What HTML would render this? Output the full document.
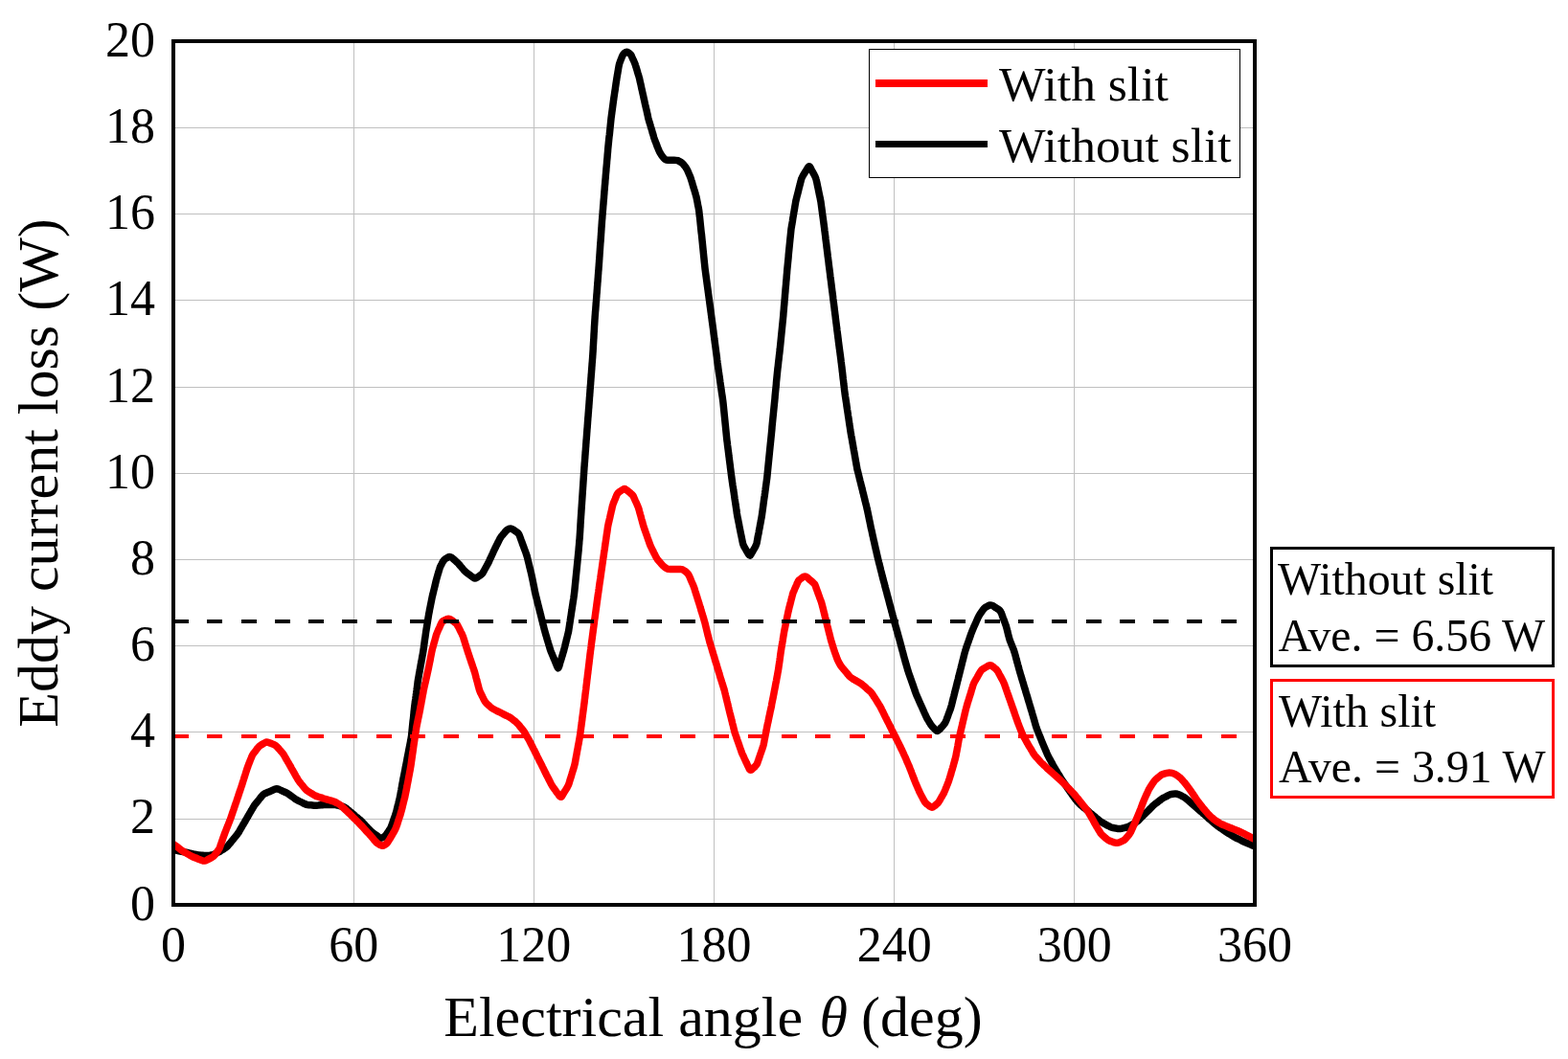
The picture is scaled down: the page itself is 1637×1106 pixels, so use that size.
<!DOCTYPE html>
<html><head><meta charset="utf-8"><title>Eddy current loss</title>
<style>
html,body{margin:0;padding:0;background:#fff;}
body{width:1637px;height:1106px;overflow:hidden;}
svg{display:block;}
text{font-family:"Liberation Serif","Times New Roman",serif;fill:#000;}
</style></head><body>
<svg width="1637" height="1106" viewBox="0 0 1637 1106">
<rect x="0" y="0" width="1637" height="1106" fill="#fff"/>
<path d="M369.5,45V943 M557.5,45V943 M745.5,45V943 M933.5,45V943 M1121.5,45V943 M183,133.5H1308 M183,223.5H1308 M183,313.5H1308 M183,404.5H1308 M183,494.5H1308 M183,584.5H1308 M183,674.5H1308 M183,764.5H1308 M183,855.5H1308" stroke="#c0c0c0" stroke-width="1" fill="none" shape-rendering="crispEdges"/>
<path d="M181.0,887.5 C181.5,887.6 183.0,887.9 183.9,888.1 C184.9,888.3 185.9,888.5 186.9,888.7 C187.9,888.9 188.8,889.1 189.8,889.3 C190.8,889.5 191.8,889.7 192.8,889.9 C193.7,890.1 194.7,890.3 195.7,890.5 C196.7,890.7 197.6,891.0 198.6,891.2 C199.6,891.4 200.6,891.6 201.5,891.9 C202.5,892.1 203.5,892.3 204.5,892.5 C205.4,892.7 206.4,892.8 207.4,892.9 C208.4,893.0 209.4,893.1 210.4,893.2 C211.4,893.3 212.4,893.5 213.4,893.5 C214.4,893.5 215.4,893.5 216.4,893.5 C217.4,893.4 218.4,893.4 219.4,893.3 C220.4,893.1 221.3,892.9 222.3,892.6 C223.2,892.3 224.1,891.8 225.0,891.4 C225.9,890.9 226.8,890.5 227.7,890.1 C228.6,889.6 229.5,889.2 230.3,888.7 C231.2,888.2 232.0,887.6 232.9,887.1 C233.7,886.6 234.6,886.1 235.4,885.5 C236.2,884.9 237.0,884.3 237.7,883.6 C238.4,882.9 239.0,882.1 239.6,881.3 C240.3,880.5 240.9,879.8 241.5,879.0 C242.2,878.2 242.8,877.4 243.4,876.7 C244.1,875.9 244.7,875.1 245.3,874.4 C246.0,873.6 246.6,872.8 247.2,872.0 C247.8,871.2 248.4,870.4 249.0,869.6 C249.5,868.7 250.0,867.9 250.5,867.0 C251.0,866.1 251.5,865.3 252.0,864.4 C252.5,863.5 253.0,862.7 253.5,861.8 C254.0,860.9 254.5,860.1 255.0,859.2 C255.5,858.4 256.0,857.5 256.5,856.6 C257.0,855.8 257.5,854.9 258.0,854.0 C258.5,853.2 259.0,852.3 259.5,851.4 C260.0,850.6 260.5,849.7 261.0,848.8 C261.5,848.0 262.0,847.1 262.5,846.3 C263.0,845.4 263.5,844.5 264.0,843.7 C264.6,842.8 265.1,841.9 265.6,841.1 C266.2,840.3 266.9,839.5 267.5,838.8 C268.1,838.0 268.7,837.2 269.4,836.4 C270.0,835.6 270.6,834.8 271.2,834.1 C271.8,833.3 272.4,832.5 273.1,831.7 C273.8,831.0 274.4,830.2 275.2,829.6 C276.0,829.1 276.9,828.7 277.8,828.3 C278.7,827.9 279.6,827.5 280.6,827.1 C281.5,826.7 282.4,826.3 283.3,825.9 C284.2,825.4 285.1,825.0 286.0,824.6 C286.9,824.3 287.9,823.7 288.8,823.7 C289.7,823.7 290.6,824.1 291.5,824.5 C292.4,824.8 293.3,825.3 294.2,825.7 C295.1,826.2 296.0,826.6 296.9,827.0 C297.8,827.4 298.7,827.8 299.6,828.3 C300.5,828.8 301.3,829.4 302.1,830.0 C302.9,830.5 303.8,831.1 304.6,831.7 C305.4,832.3 306.2,832.9 307.0,833.4 C307.8,834.0 308.6,834.6 309.5,835.1 C310.3,835.6 311.2,836.1 312.1,836.6 C313.0,837.0 313.9,837.5 314.8,837.9 C315.7,838.3 316.6,838.8 317.5,839.2 C318.4,839.6 319.3,840.1 320.2,840.3 C321.2,840.6 322.2,840.6 323.2,840.7 C324.2,840.8 325.2,840.9 326.2,841.0 C327.2,841.1 328.2,841.2 329.2,841.2 C330.2,841.2 331.2,841.1 332.2,841.1 C333.2,841.0 334.2,840.9 335.1,840.8 C336.1,840.7 337.1,840.6 338.1,840.5 C339.1,840.5 340.1,840.4 341.1,840.4 C342.1,840.4 343.1,840.4 344.1,840.4 C345.1,840.4 346.1,840.4 347.1,840.4 C348.1,840.4 349.1,840.5 350.1,840.6 C351.1,840.7 352.1,841.0 353.0,841.2 C354.0,841.4 355.0,841.7 355.9,841.9 C356.9,842.2 357.9,842.3 358.8,842.7 C359.7,843.1 360.5,843.6 361.3,844.2 C362.2,844.8 362.9,845.5 363.7,846.1 C364.5,846.7 365.2,847.4 366.0,848.0 C366.8,848.6 367.5,849.3 368.3,849.9 C369.1,850.6 369.8,851.2 370.6,851.9 C371.4,852.5 372.1,853.1 372.9,853.8 C373.7,854.4 374.4,855.1 375.2,855.7 C375.9,856.4 376.7,857.0 377.4,857.7 C378.1,858.4 378.8,859.2 379.5,859.9 C380.2,860.6 380.8,861.4 381.5,862.1 C382.2,862.8 382.9,863.5 383.6,864.3 C384.3,865.0 385.0,865.7 385.7,866.4 C386.4,867.2 387.0,867.9 387.8,868.5 C388.5,869.2 389.4,869.8 390.2,870.4 C391.0,871.0 391.8,871.5 392.6,872.1 C393.4,872.7 394.2,873.4 395.0,873.9 C395.8,874.4 396.6,875.1 397.5,875.2 C398.4,875.3 399.4,874.9 400.2,874.4 C401.0,874.0 401.8,873.3 402.4,872.6 C403.1,871.9 403.6,871.0 404.2,870.2 C404.8,869.4 405.4,868.6 405.9,867.7 C406.5,866.9 407.1,866.1 407.6,865.3 C408.0,864.4 408.4,863.4 408.7,862.5 C409.1,861.6 409.4,860.6 409.7,859.7 C410.0,858.7 410.4,857.8 410.7,856.8 C411.0,855.9 411.4,854.9 411.7,854.0 C412.0,853.1 412.4,852.1 412.7,851.2 C413.0,850.2 413.3,849.3 413.6,848.3 C413.9,847.4 414.1,846.4 414.3,845.4 C414.6,844.4 414.8,843.5 415.0,842.5 C415.3,841.5 415.5,840.6 415.8,839.6 C416.0,838.6 416.2,837.6 416.5,836.7 C416.7,835.7 417.0,834.7 417.2,833.8 C417.4,832.8 417.6,831.8 417.8,830.8 C418.0,829.8 418.2,828.9 418.3,827.9 C418.5,826.9 418.7,825.9 418.9,824.9 C419.0,823.9 419.2,822.9 419.4,822.0 C419.6,821.0 419.7,820.0 419.9,819.0 C420.1,818.0 420.3,817.0 420.5,816.1 C420.6,815.1 420.8,814.1 421.0,813.1 C421.2,812.1 421.4,811.2 421.6,810.2 C421.8,809.2 422.0,808.2 422.2,807.2 C422.4,806.2 422.6,805.3 422.8,804.3 C423.0,803.3 423.1,802.3 423.3,801.3 C423.5,800.4 423.7,799.4 423.9,798.4 C424.1,797.4 424.3,796.4 424.5,795.4 C424.7,794.5 424.9,793.5 425.0,792.5 C425.2,791.5 425.4,790.5 425.6,789.6 C425.8,788.6 426.0,787.6 426.2,786.6 C426.4,785.6 426.6,784.6 426.7,783.7 C426.9,782.7 427.1,781.7 427.3,780.7 C427.5,779.7 427.7,778.8 427.9,777.8 C428.1,776.8 428.3,775.8 428.5,774.8 C428.6,773.8 428.8,772.9 429.0,771.9 C429.2,770.9 429.4,769.9 429.5,768.9 C429.7,767.9 429.7,766.9 429.8,765.9 C430.0,765.0 430.0,764.0 430.1,763.0 C430.2,762.0 430.3,761.0 430.4,760.0 C430.5,759.0 430.6,758.0 430.7,757.0 C430.8,756.0 430.9,755.0 431.0,754.0 C431.1,753.0 431.2,752.0 431.4,751.0 C431.5,750.0 431.6,749.0 431.7,748.0 C431.8,747.0 431.9,746.0 432.0,745.1 C432.1,744.1 432.1,743.1 432.3,742.1 C432.4,741.1 432.5,740.1 432.6,739.1 C432.7,738.1 432.8,737.1 433.0,736.1 C433.1,735.1 433.2,734.1 433.4,733.1 C433.5,732.1 433.6,731.2 433.8,730.2 C433.9,729.2 434.0,728.2 434.2,727.2 C434.3,726.2 434.4,725.2 434.6,724.2 C434.7,723.2 434.8,722.2 435.0,721.2 C435.1,720.3 435.2,719.3 435.4,718.3 C435.5,717.3 435.6,716.3 435.8,715.3 C435.9,714.3 436.0,713.3 436.1,712.3 C436.3,711.3 436.4,710.3 436.6,709.4 C436.7,708.4 436.9,707.4 437.1,706.4 C437.3,705.4 437.5,704.4 437.6,703.4 C437.8,702.5 438.0,701.5 438.2,700.5 C438.3,699.5 438.5,698.5 438.7,697.5 C438.9,696.6 439.0,695.6 439.2,694.6 C439.4,693.6 439.6,692.6 439.8,691.6 C439.9,690.7 440.1,689.7 440.3,688.7 C440.5,687.7 440.6,686.7 440.8,685.7 C441.0,684.7 441.2,683.8 441.4,682.8 C441.5,681.8 441.7,680.8 441.9,679.8 C442.0,678.8 442.2,677.8 442.3,676.9 C442.5,675.9 442.6,674.9 442.7,673.9 C442.9,672.9 443.0,671.9 443.1,670.9 C443.3,669.9 443.4,668.9 443.5,667.9 C443.7,667.0 443.8,666.0 444.0,665.0 C444.1,664.0 444.2,663.0 444.4,662.0 C444.5,661.0 444.7,660.0 444.8,659.0 C445.0,658.0 445.1,657.1 445.3,656.1 C445.5,655.1 445.6,654.1 445.8,653.1 C445.9,652.1 446.1,651.1 446.3,650.2 C446.4,649.2 446.6,648.2 446.7,647.2 C446.9,646.2 447.1,645.2 447.2,644.2 C447.4,643.2 447.5,642.3 447.7,641.3 C447.9,640.3 448.1,639.3 448.3,638.3 C448.4,637.3 448.6,636.4 448.8,635.4 C449.0,634.4 449.2,633.4 449.4,632.4 C449.6,631.5 449.8,630.5 450.0,629.5 C450.2,628.5 450.4,627.5 450.6,626.5 C450.8,625.6 451.0,624.6 451.2,623.6 C451.4,622.6 451.6,621.7 451.9,620.7 C452.1,619.7 452.3,618.7 452.6,617.8 C452.8,616.8 453.0,615.8 453.3,614.9 C453.5,613.9 453.8,612.9 454.0,611.9 C454.2,611.0 454.5,610.0 454.7,609.0 C454.9,608.1 455.2,607.1 455.4,606.1 C455.7,605.1 455.9,604.2 456.2,603.2 C456.5,602.3 456.7,601.3 457.0,600.3 C457.3,599.4 457.6,598.4 457.9,597.5 C458.2,596.5 458.4,595.5 458.7,594.6 C459.0,593.6 459.3,592.7 459.7,591.8 C460.1,590.8 460.6,590.0 461.1,589.1 C461.5,588.2 461.9,587.3 462.5,586.4 C463.0,585.6 463.5,584.8 464.3,584.2 C465.0,583.5 466.0,583.1 466.8,582.6 C467.7,582.2 468.6,581.4 469.4,581.4 C470.2,581.4 471.0,581.9 471.7,582.4 C472.5,582.9 473.2,583.7 474.0,584.4 C474.7,585.0 475.5,585.7 476.2,586.4 C476.9,587.1 477.7,587.7 478.3,588.4 C479.0,589.2 479.7,589.9 480.3,590.7 C481.0,591.5 481.6,592.2 482.3,593.0 C482.9,593.7 483.5,594.5 484.2,595.3 C484.9,596.0 485.6,596.7 486.3,597.4 C487.0,598.1 487.9,598.6 488.7,599.2 C489.5,599.8 490.3,600.4 491.1,601.0 C491.9,601.6 492.7,602.3 493.5,602.8 C494.3,603.3 495.1,604.1 495.9,604.1 C496.7,604.1 497.5,603.4 498.4,602.9 C499.2,602.4 500.0,601.8 500.8,601.2 C501.7,600.6 502.5,600.1 503.2,599.4 C503.9,598.7 504.3,597.8 504.8,596.9 C505.3,596.1 505.8,595.2 506.3,594.3 C506.8,593.4 507.2,592.6 507.7,591.7 C508.2,590.8 508.7,589.9 509.2,589.1 C509.6,588.2 510.1,587.3 510.5,586.4 C510.9,585.5 511.3,584.6 511.7,583.6 C512.2,582.7 512.6,581.8 513.0,580.9 C513.4,580.0 513.8,579.1 514.3,578.2 C514.7,577.3 515.1,576.4 515.5,575.5 C515.9,574.6 516.4,573.7 516.8,572.8 C517.2,571.9 517.7,571.0 518.1,570.1 C518.6,569.2 519.0,568.3 519.5,567.4 C519.9,566.5 520.4,565.6 520.8,564.7 C521.3,563.8 521.7,562.9 522.2,562.1 C522.7,561.2 523.3,560.4 523.9,559.6 C524.6,558.8 525.2,558.1 525.9,557.3 C526.5,556.6 527.1,555.7 527.8,555.0 C528.5,554.3 529.2,553.7 530.0,553.1 C530.9,552.6 531.8,551.9 532.6,551.9 C533.5,551.8 534.3,552.3 535.1,552.7 C536.0,553.1 536.8,553.8 537.6,554.4 C538.4,554.9 539.3,555.4 540.1,556.1 C540.8,556.7 541.4,557.4 541.9,558.2 C542.4,559.1 542.6,560.1 543.0,561.0 C543.3,562.0 543.7,562.9 544.0,563.8 C544.4,564.8 544.7,565.7 545.1,566.7 C545.4,567.6 545.7,568.5 546.1,569.5 C546.4,570.4 546.8,571.3 547.1,572.3 C547.5,573.2 547.8,574.2 548.2,575.1 C548.5,576.0 548.9,577.0 549.2,577.9 C549.5,578.9 549.8,579.8 550.1,580.8 C550.4,581.7 550.6,582.7 550.9,583.7 C551.1,584.6 551.3,585.6 551.6,586.6 C551.8,587.6 552.0,588.5 552.3,589.5 C552.5,590.5 552.8,591.4 553.0,592.4 C553.2,593.4 553.5,594.4 553.7,595.3 C554.0,596.3 554.2,597.3 554.4,598.2 C554.7,599.2 554.9,600.2 555.1,601.2 C555.3,602.1 555.5,603.1 555.7,604.1 C555.9,605.1 556.1,606.1 556.3,607.0 C556.5,608.0 556.7,609.0 556.9,610.0 C557.1,611.0 557.3,612.0 557.5,612.9 C557.7,613.9 557.9,614.9 558.1,615.9 C558.2,616.9 558.4,617.8 558.7,618.8 C558.9,619.8 559.1,620.8 559.3,621.7 C559.6,622.7 559.8,623.7 560.1,624.6 C560.3,625.6 560.6,626.6 560.8,627.6 C561.0,628.5 561.3,629.5 561.5,630.5 C561.8,631.4 562.0,632.4 562.3,633.4 C562.5,634.3 562.7,635.3 563.0,636.3 C563.2,637.2 563.5,638.2 563.7,639.2 C564.0,640.2 564.2,641.1 564.5,642.1 C564.7,643.1 564.9,644.0 565.2,645.0 C565.4,646.0 565.7,646.9 565.9,647.9 C566.2,648.9 566.4,649.9 566.6,650.8 C566.9,651.8 567.1,652.8 567.4,653.7 C567.6,654.7 567.9,655.7 568.1,656.6 C568.4,657.6 568.6,658.6 568.9,659.5 C569.1,660.5 569.4,661.5 569.7,662.4 C570.0,663.4 570.3,664.3 570.6,665.3 C570.8,666.3 571.1,667.2 571.4,668.2 C571.7,669.1 572.0,670.1 572.3,671.1 C572.6,672.0 572.8,673.0 573.1,673.9 C573.4,674.9 573.7,675.9 574.0,676.8 C574.3,677.8 574.6,678.7 574.9,679.7 C575.3,680.6 575.7,681.5 576.0,682.4 C576.4,683.4 576.8,684.3 577.2,685.2 C577.6,686.1 578.0,687.0 578.3,688.0 C578.7,688.9 579.1,689.8 579.5,690.7 C579.9,691.7 580.3,692.6 580.6,693.5 C581.0,694.4 581.4,695.6 581.8,696.3 C582.2,697.0 582.6,697.9 582.9,697.7 C583.2,697.6 583.5,696.3 583.8,695.5 C584.1,694.6 584.4,693.5 584.6,692.6 C584.9,691.6 585.2,690.7 585.5,689.7 C585.8,688.8 586.1,687.8 586.4,686.8 C586.7,685.9 587.0,684.9 587.3,684.0 C587.5,683.0 587.8,682.1 588.1,681.1 C588.4,680.1 588.7,679.2 588.9,678.2 C589.2,677.3 589.4,676.3 589.7,675.3 C589.9,674.3 590.1,673.4 590.4,672.4 C590.6,671.4 590.9,670.5 591.1,669.5 C591.3,668.5 591.6,667.5 591.8,666.6 C592.1,665.6 592.3,664.6 592.5,663.7 C592.8,662.7 593.0,661.7 593.3,660.7 C593.5,659.8 593.7,658.8 593.8,657.8 C594.0,656.8 594.1,655.8 594.3,654.8 C594.4,653.8 594.6,652.9 594.7,651.9 C594.9,650.9 595.0,649.9 595.2,648.9 C595.3,647.9 595.5,646.9 595.6,645.9 C595.8,644.9 595.9,644.0 596.1,643.0 C596.2,642.0 596.4,641.0 596.5,640.0 C596.7,639.0 596.8,638.0 597.0,637.0 C597.1,636.0 597.3,635.1 597.4,634.1 C597.6,633.1 597.7,632.1 597.9,631.1 C598.0,630.1 598.2,629.1 598.3,628.1 C598.5,627.2 598.6,626.2 598.8,625.2 C598.9,624.2 599.1,623.2 599.2,622.2 C599.4,621.2 599.5,620.2 599.6,619.2 C599.7,618.2 599.8,617.2 599.9,616.3 C600.0,615.3 600.1,614.3 600.2,613.3 C600.3,612.3 600.4,611.3 600.5,610.3 C600.6,609.3 600.7,608.3 600.8,607.3 C600.9,606.3 601.0,605.3 601.1,604.3 C601.2,603.3 601.3,602.3 601.4,601.3 C601.5,600.3 601.6,599.3 601.7,598.3 C601.8,597.3 601.9,596.4 602.0,595.4 C602.1,594.4 602.2,593.4 602.3,592.4 C602.4,591.4 602.5,590.4 602.6,589.4 C602.7,588.4 602.8,587.4 602.9,586.4 C603.0,585.4 603.1,584.4 603.2,583.4 C603.3,582.4 603.4,581.4 603.5,580.4 C603.6,579.4 603.7,578.4 603.8,577.4 C603.9,576.4 604.0,575.5 604.1,574.5 C604.1,573.5 604.2,572.5 604.3,571.5 C604.4,570.5 604.5,569.5 604.6,568.5 C604.7,567.5 604.7,566.5 604.8,565.5 C604.9,564.5 605.0,563.5 605.1,562.5 C605.2,561.5 605.2,560.5 605.3,559.5 C605.4,558.5 605.4,557.5 605.5,556.5 C605.6,555.5 605.6,554.5 605.7,553.5 C605.7,552.5 605.8,551.5 605.9,550.5 C605.9,549.5 606.0,548.5 606.0,547.5 C606.1,546.5 606.2,545.5 606.2,544.5 C606.3,543.5 606.3,542.5 606.4,541.5 C606.5,540.5 606.5,539.5 606.6,538.5 C606.7,537.5 606.7,536.6 606.8,535.6 C606.9,534.6 606.9,533.6 607.0,532.6 C607.1,531.6 607.1,530.6 607.2,529.6 C607.3,528.6 607.3,527.6 607.4,526.6 C607.5,525.6 607.5,524.6 607.6,523.6 C607.7,522.6 607.7,521.6 607.8,520.6 C607.9,519.6 607.9,518.6 608.0,517.6 C608.1,516.6 608.1,515.6 608.2,514.6 C608.3,513.6 608.3,512.6 608.4,511.6 C608.5,510.6 608.5,509.6 608.6,508.6 C608.7,507.6 608.7,506.6 608.8,505.6 C608.9,504.6 608.9,503.6 609.0,502.6 C609.1,501.6 609.1,500.6 609.2,499.6 C609.3,498.6 609.3,497.6 609.4,496.6 C609.5,495.6 609.5,494.6 609.6,493.6 C609.7,492.6 609.7,491.7 609.8,490.7 C609.9,489.7 609.9,488.7 610.0,487.7 C610.1,486.7 610.2,485.7 610.2,484.7 C610.3,483.7 610.4,482.7 610.5,481.7 C610.5,480.7 610.6,479.7 610.7,478.7 C610.8,477.7 610.8,476.7 610.9,475.7 C611.0,474.7 611.1,473.7 611.1,472.7 C611.2,471.7 611.3,470.7 611.4,469.7 C611.4,468.7 611.5,467.7 611.6,466.7 C611.7,465.7 611.7,464.7 611.8,463.7 C611.9,462.7 612.0,461.7 612.0,460.7 C612.1,459.7 612.2,458.7 612.3,457.7 C612.3,456.8 612.4,455.8 612.5,454.8 C612.6,453.8 612.6,452.8 612.7,451.8 C612.8,450.8 612.9,449.8 612.9,448.8 C613.0,447.8 613.1,446.8 613.2,445.8 C613.2,444.8 613.3,443.8 613.4,442.8 C613.5,441.8 613.5,440.8 613.6,439.8 C613.7,438.8 613.8,437.8 613.8,436.8 C613.9,435.8 614.0,434.8 614.1,433.8 C614.1,432.8 614.2,431.8 614.3,430.8 C614.4,429.8 614.5,428.8 614.5,427.8 C614.6,426.8 614.7,425.8 614.8,424.8 C614.8,423.8 614.9,422.8 615.0,421.8 C615.1,420.9 615.1,419.9 615.2,418.9 C615.3,417.9 615.4,416.9 615.4,415.9 C615.5,414.9 615.6,413.9 615.7,412.9 C615.7,411.9 615.8,410.9 615.9,409.9 C616.0,408.9 616.0,407.9 616.1,406.9 C616.2,405.9 616.3,404.9 616.3,403.9 C616.4,402.9 616.5,401.9 616.6,400.9 C616.6,399.9 616.7,398.9 616.8,397.9 C616.9,396.9 616.9,395.9 617.0,394.9 C617.1,393.9 617.2,392.9 617.2,391.9 C617.3,390.9 617.4,389.9 617.5,388.9 C617.5,387.9 617.6,386.9 617.7,386.0 C617.8,385.0 617.8,384.0 617.9,383.0 C618.0,382.0 618.1,381.0 618.1,380.0 C618.2,379.0 618.3,378.0 618.4,377.0 C618.4,376.0 618.5,375.0 618.6,374.0 C618.7,373.0 618.7,372.0 618.8,371.0 C618.9,370.0 618.9,369.0 619.0,368.0 C619.1,367.0 619.1,366.0 619.2,365.0 C619.2,364.0 619.3,363.0 619.3,362.0 C619.4,361.0 619.5,360.0 619.5,359.0 C619.6,358.0 619.6,357.0 619.7,356.0 C619.7,355.0 619.8,354.0 619.9,353.0 C619.9,352.0 620.0,351.0 620.0,350.0 C620.1,349.0 620.1,348.0 620.2,347.0 C620.3,346.0 620.3,345.0 620.4,344.0 C620.4,343.0 620.5,342.0 620.5,341.0 C620.6,340.0 620.7,339.0 620.7,338.0 C620.8,337.1 620.8,336.1 620.9,335.1 C620.9,334.1 621.0,333.1 621.1,332.1 C621.1,331.1 621.2,330.1 621.3,329.1 C621.4,328.1 621.5,327.1 621.5,326.1 C621.6,325.1 621.7,324.1 621.8,323.1 C621.9,322.1 621.9,321.1 622.0,320.1 C622.1,319.1 622.2,318.1 622.2,317.1 C622.3,316.1 622.4,315.1 622.5,314.1 C622.6,313.1 622.6,312.1 622.7,311.1 C622.8,310.1 622.9,309.1 622.9,308.1 C623.0,307.1 623.1,306.1 623.2,305.1 C623.2,304.1 623.3,303.1 623.4,302.1 C623.5,301.2 623.5,300.2 623.6,299.2 C623.7,298.2 623.8,297.2 623.8,296.2 C623.9,295.2 624.0,294.2 624.1,293.2 C624.1,292.2 624.2,291.2 624.3,290.2 C624.4,289.2 624.4,288.2 624.5,287.2 C624.6,286.2 624.7,285.2 624.7,284.2 C624.8,283.2 624.9,282.2 625.0,281.2 C625.0,280.2 625.1,279.2 625.2,278.2 C625.3,277.2 625.3,276.2 625.4,275.2 C625.5,274.2 625.6,273.2 625.6,272.2 C625.7,271.2 625.8,270.2 625.8,269.2 C625.9,268.2 626.0,267.2 626.0,266.2 C626.1,265.2 626.2,264.3 626.2,263.3 C626.3,262.3 626.4,261.3 626.4,260.3 C626.5,259.3 626.6,258.3 626.6,257.3 C626.7,256.3 626.8,255.3 626.8,254.3 C626.9,253.3 627.0,252.3 627.1,251.3 C627.1,250.3 627.2,249.3 627.3,248.3 C627.3,247.3 627.4,246.3 627.5,245.3 C627.5,244.3 627.6,243.3 627.7,242.3 C627.7,241.3 627.8,240.3 627.9,239.3 C627.9,238.3 628.0,237.3 628.1,236.3 C628.1,235.3 628.2,234.3 628.3,233.3 C628.4,232.3 628.4,231.3 628.5,230.3 C628.6,229.3 628.7,228.3 628.8,227.3 C628.8,226.3 628.9,225.3 629.0,224.4 C629.1,223.4 629.2,222.4 629.2,221.4 C629.3,220.4 629.4,219.4 629.5,218.4 C629.6,217.4 629.6,216.4 629.7,215.4 C629.8,214.4 629.9,213.4 630.0,212.4 C630.0,211.4 630.1,210.4 630.2,209.4 C630.3,208.4 630.4,207.4 630.5,206.4 C630.5,205.4 630.6,204.4 630.7,203.4 C630.8,202.4 630.9,201.4 630.9,200.4 C631.0,199.4 631.1,198.4 631.2,197.4 C631.3,196.4 631.3,195.4 631.4,194.4 C631.5,193.5 631.6,192.5 631.7,191.5 C631.8,190.5 631.8,189.5 631.9,188.5 C632.0,187.5 632.1,186.5 632.2,185.5 C632.3,184.5 632.3,183.5 632.4,182.5 C632.5,181.5 632.6,180.5 632.7,179.5 C632.8,178.5 632.9,177.5 632.9,176.5 C633.0,175.5 633.1,174.5 633.2,173.5 C633.3,172.5 633.4,171.5 633.5,170.5 C633.5,169.5 633.6,168.5 633.7,167.5 C633.8,166.6 633.9,165.6 634.0,164.6 C634.1,163.6 634.1,162.6 634.2,161.6 C634.3,160.6 634.4,159.6 634.5,158.6 C634.6,157.6 634.6,156.6 634.7,155.6 C634.8,154.6 634.9,153.6 635.0,152.6 C635.1,151.6 635.2,150.6 635.3,149.6 C635.4,148.6 635.5,147.6 635.6,146.6 C635.7,145.6 635.8,144.6 635.9,143.7 C636.0,142.7 636.1,141.7 636.3,140.7 C636.4,139.7 636.5,138.7 636.6,137.7 C636.7,136.7 636.8,135.7 636.9,134.7 C637.0,133.7 637.1,132.7 637.2,131.7 C637.3,130.7 637.4,129.7 637.5,128.7 C637.6,127.7 637.7,126.7 637.8,125.7 C637.9,124.8 638.0,123.8 638.1,122.8 C638.3,121.8 638.4,120.8 638.5,119.8 C638.7,118.8 638.8,117.8 638.9,116.8 C639.1,115.8 639.2,114.8 639.3,113.8 C639.5,112.9 639.6,111.9 639.7,110.9 C639.9,109.9 640.0,108.9 640.1,107.9 C640.3,106.9 640.4,105.9 640.5,104.9 C640.7,103.9 640.8,102.9 640.9,102.0 C641.1,101.0 641.2,100.0 641.4,99.0 C641.5,98.0 641.7,97.0 641.8,96.0 C642.0,95.0 642.1,94.0 642.3,93.1 C642.4,92.1 642.5,91.1 642.7,90.1 C642.8,89.1 643.0,88.1 643.1,87.1 C643.3,86.1 643.4,85.1 643.6,84.1 C643.7,83.2 643.9,82.2 644.0,81.2 C644.2,80.2 644.3,79.2 644.5,78.2 C644.7,77.2 644.9,76.3 645.0,75.3 C645.2,74.3 645.4,73.3 645.5,72.3 C645.7,71.3 645.9,70.3 646.0,69.4 C646.2,68.4 646.4,67.4 646.7,66.4 C647.0,65.5 647.4,64.6 647.7,63.6 C648.1,62.7 648.4,61.8 648.8,60.8 C649.2,59.9 649.5,58.9 649.9,58.1 C650.4,57.2 650.9,56.3 651.6,55.7 C652.3,55.0 653.1,54.3 653.9,54.3 C654.7,54.2 655.6,54.7 656.4,55.2 C657.2,55.7 658.0,56.4 658.6,57.1 C659.2,57.9 659.5,58.9 659.9,59.8 C660.4,60.7 660.7,61.6 661.2,62.5 C661.6,63.4 662.0,64.3 662.4,65.3 C662.7,66.2 663.1,67.1 663.4,68.1 C663.7,69.0 664.0,70.0 664.3,70.9 C664.6,71.9 664.9,72.8 665.2,73.8 C665.4,74.8 665.7,75.7 666.0,76.7 C666.3,77.6 666.6,78.6 666.9,79.5 C667.2,80.5 667.4,81.5 667.7,82.4 C667.9,83.4 668.1,84.4 668.3,85.4 C668.5,86.3 668.8,87.3 669.0,88.3 C669.2,89.3 669.4,90.2 669.6,91.2 C669.8,92.2 670.0,93.2 670.3,94.2 C670.5,95.1 670.7,96.1 670.9,97.1 C671.1,98.1 671.3,99.0 671.6,100.0 C671.8,101.0 672.0,102.0 672.2,102.9 C672.4,103.9 672.7,104.9 672.9,105.9 C673.1,106.8 673.3,107.8 673.5,108.8 C673.8,109.8 674.0,110.7 674.2,111.7 C674.4,112.7 674.6,113.7 674.9,114.6 C675.1,115.6 675.3,116.6 675.5,117.6 C675.7,118.5 676.0,119.5 676.2,120.5 C676.4,121.5 676.6,122.5 676.8,123.4 C677.1,124.4 677.3,125.4 677.6,126.3 C677.9,127.3 678.2,128.2 678.5,129.2 C678.8,130.1 679.1,131.1 679.3,132.1 C679.6,133.0 679.9,134.0 680.2,134.9 C680.5,135.9 680.8,136.9 681.0,137.8 C681.3,138.8 681.6,139.7 681.9,140.7 C682.2,141.7 682.4,142.6 682.7,143.6 C683.0,144.5 683.3,145.5 683.7,146.4 C684.0,147.4 684.4,148.3 684.8,149.2 C685.1,150.2 685.5,151.1 685.8,152.0 C686.2,153.0 686.5,153.9 686.9,154.8 C687.3,155.7 687.7,156.7 688.1,157.6 C688.6,158.5 689.0,159.4 689.5,160.2 C690.0,161.1 690.5,162.0 691.1,162.8 C691.7,163.6 692.3,164.4 693.0,165.1 C693.6,165.8 694.3,166.5 695.2,166.9 C696.0,167.3 697.1,167.1 698.0,167.2 C699.0,167.2 700.0,167.2 701.0,167.2 C702.0,167.2 703.0,167.2 704.0,167.2 C705.0,167.2 706.0,167.2 707.0,167.5 C707.9,167.7 708.8,168.2 709.7,168.7 C710.6,169.1 711.4,169.6 712.1,170.3 C712.9,170.9 713.5,171.8 714.1,172.5 C714.7,173.3 715.4,174.0 716.0,174.9 C716.5,175.7 717.0,176.6 717.5,177.4 C717.9,178.3 718.3,179.3 718.7,180.2 C719.1,181.1 719.5,182.0 719.9,182.9 C720.3,183.8 720.7,184.8 721.0,185.7 C721.3,186.6 721.6,187.6 721.9,188.6 C722.2,189.5 722.5,190.5 722.8,191.4 C723.0,192.4 723.3,193.4 723.6,194.3 C723.9,195.3 724.2,196.2 724.5,197.2 C724.8,198.1 725.1,199.1 725.4,200.1 C725.6,201.0 726.0,202.0 726.2,202.9 C726.5,203.9 726.7,204.9 727.0,205.8 C727.2,206.8 727.4,207.8 727.6,208.8 C727.8,209.7 728.0,210.7 728.2,211.7 C728.3,212.7 728.5,213.7 728.7,214.7 C728.9,215.6 729.2,216.6 729.3,217.6 C729.5,218.6 729.7,219.6 729.8,220.6 C729.9,221.5 730.0,222.5 730.1,223.5 C730.2,224.5 730.3,225.5 730.5,226.5 C730.6,227.5 730.7,228.5 730.8,229.5 C730.9,230.5 731.0,231.5 731.1,232.5 C731.2,233.5 731.3,234.5 731.4,235.5 C731.5,236.5 731.6,237.5 731.7,238.4 C731.8,239.4 731.9,240.4 732.0,241.4 C732.1,242.4 732.2,243.4 732.4,244.4 C732.5,245.4 732.6,246.4 732.7,247.4 C732.8,248.4 732.9,249.4 733.0,250.4 C733.1,251.4 733.2,252.4 733.3,253.4 C733.4,254.4 733.5,255.4 733.6,256.4 C733.7,257.3 733.8,258.3 733.9,259.3 C734.0,260.3 734.1,261.3 734.2,262.3 C734.3,263.3 734.4,264.3 734.5,265.3 C734.6,266.3 734.7,267.3 734.8,268.3 C734.9,269.3 735.0,270.3 735.1,271.3 C735.2,272.3 735.3,273.3 735.4,274.3 C735.5,275.3 735.6,276.3 735.7,277.2 C735.8,278.2 735.9,279.2 736.0,280.2 C736.1,281.2 736.3,282.2 736.4,283.2 C736.5,284.2 736.7,285.2 736.8,286.2 C736.9,287.2 737.1,288.2 737.2,289.1 C737.3,290.1 737.5,291.1 737.6,292.1 C737.7,293.1 737.9,294.1 738.0,295.1 C738.1,296.1 738.3,297.1 738.4,298.1 C738.5,299.1 738.7,300.1 738.8,301.0 C738.9,302.0 739.1,303.0 739.2,304.0 C739.3,305.0 739.5,306.0 739.6,307.0 C739.7,308.0 739.9,309.0 740.0,310.0 C740.1,311.0 740.3,311.9 740.4,312.9 C740.5,313.9 740.7,314.9 740.8,315.9 C740.9,316.9 741.1,317.9 741.2,318.9 C741.3,319.9 741.5,320.9 741.6,321.9 C741.7,322.8 741.9,323.8 742.0,324.8 C742.1,325.8 742.3,326.8 742.4,327.8 C742.5,328.8 742.7,329.8 742.8,330.8 C742.9,331.8 743.1,332.8 743.2,333.8 C743.3,334.7 743.4,335.7 743.6,336.7 C743.7,337.7 743.8,338.7 744.0,339.7 C744.1,340.7 744.2,341.7 744.4,342.7 C744.5,343.7 744.6,344.7 744.8,345.6 C744.9,346.6 745.0,347.6 745.1,348.6 C745.3,349.6 745.4,350.6 745.5,351.6 C745.7,352.6 745.8,353.6 745.9,354.6 C746.1,355.6 746.2,356.6 746.3,357.5 C746.4,358.5 746.6,359.5 746.7,360.5 C746.8,361.5 747.0,362.5 747.1,363.5 C747.2,364.5 747.4,365.5 747.5,366.5 C747.6,367.5 747.7,368.5 747.9,369.4 C748.0,370.4 748.1,371.4 748.3,372.4 C748.4,373.4 748.5,374.4 748.6,375.4 C748.8,376.4 748.9,377.4 749.0,378.4 C749.2,379.4 749.3,380.4 749.4,381.3 C749.6,382.3 749.7,383.3 749.8,384.3 C749.9,385.3 750.1,386.3 750.2,387.3 C750.3,388.3 750.5,389.3 750.6,390.3 C750.8,391.3 750.9,392.2 751.1,393.2 C751.2,394.2 751.3,395.2 751.5,396.2 C751.6,397.2 751.8,398.2 751.9,399.2 C752.1,400.2 752.2,401.1 752.3,402.1 C752.5,403.1 752.6,404.1 752.8,405.1 C752.9,406.1 753.1,407.1 753.2,408.1 C753.3,409.1 753.5,410.1 753.6,411.0 C753.8,412.0 753.9,413.0 754.1,414.0 C754.2,415.0 754.4,416.0 754.5,417.0 C754.6,418.0 754.8,419.0 754.9,420.0 C755.0,420.9 755.1,421.9 755.2,422.9 C755.3,423.9 755.4,424.9 755.5,425.9 C755.6,426.9 755.7,427.9 755.8,428.9 C755.9,429.9 756.0,430.9 756.1,431.9 C756.2,432.9 756.3,433.9 756.4,434.9 C756.5,435.9 756.6,436.9 756.7,437.9 C756.8,438.9 756.9,439.9 757.0,440.8 C757.1,441.8 757.2,442.8 757.3,443.8 C757.4,444.8 757.5,445.8 757.6,446.8 C757.7,447.8 757.8,448.8 757.9,449.8 C758.0,450.8 758.1,451.8 758.2,452.8 C758.3,453.8 758.4,454.8 758.5,455.8 C758.6,456.8 758.7,457.8 758.8,458.8 C758.9,459.8 759.0,460.7 759.2,461.7 C759.3,462.7 759.4,463.7 759.5,464.7 C759.7,465.7 759.8,466.7 759.9,467.7 C760.0,468.7 760.2,469.7 760.3,470.7 C760.4,471.7 760.5,472.7 760.7,473.6 C760.8,474.6 760.9,475.6 761.0,476.6 C761.2,477.6 761.3,478.6 761.4,479.6 C761.5,480.6 761.7,481.6 761.8,482.6 C761.9,483.6 762.0,484.6 762.2,485.6 C762.3,486.5 762.4,487.5 762.5,488.5 C762.7,489.5 762.8,490.5 762.9,491.5 C763.0,492.5 763.2,493.5 763.3,494.5 C763.4,495.5 763.5,496.5 763.7,497.5 C763.8,498.4 763.9,499.4 764.1,500.4 C764.2,501.4 764.3,502.4 764.5,503.4 C764.6,504.4 764.8,505.4 764.9,506.4 C765.1,507.4 765.2,508.3 765.4,509.3 C765.5,510.3 765.7,511.3 765.8,512.3 C766.0,513.3 766.1,514.3 766.3,515.3 C766.4,516.3 766.6,517.2 766.7,518.2 C766.8,519.2 767.0,520.2 767.1,521.2 C767.3,522.2 767.4,523.2 767.6,524.2 C767.7,525.2 767.9,526.1 768.0,527.1 C768.2,528.1 768.3,529.1 768.5,530.1 C768.6,531.1 768.8,532.1 768.9,533.1 C769.1,534.1 769.2,535.1 769.3,536.0 C769.5,537.0 769.6,538.0 769.8,539.0 C770.0,540.0 770.2,541.0 770.4,541.9 C770.6,542.9 770.8,543.9 771.0,544.9 C771.2,545.9 771.4,546.9 771.6,547.8 C771.7,548.8 771.9,549.8 772.1,550.8 C772.3,551.8 772.5,552.7 772.7,553.7 C772.9,554.7 773.1,555.7 773.3,556.7 C773.5,557.6 773.7,558.6 773.9,559.6 C774.1,560.6 774.3,561.6 774.5,562.5 C774.7,563.5 774.9,564.5 775.1,565.5 C775.3,566.5 775.4,567.5 775.8,568.4 C776.1,569.3 776.5,570.2 777.0,571.1 C777.5,572.0 778.0,572.8 778.5,573.7 C779.0,574.6 779.5,575.4 780.0,576.3 C780.5,577.2 781.0,578.2 781.5,578.9 C782.0,579.6 782.5,580.4 783.0,580.3 C783.5,580.2 784.0,579.1 784.4,578.3 C784.9,577.5 785.4,576.5 785.9,575.7 C786.4,574.8 786.9,573.9 787.4,573.1 C787.9,572.2 788.4,571.3 788.9,570.4 C789.3,569.6 789.6,568.6 789.9,567.7 C790.2,566.7 790.3,565.7 790.5,564.7 C790.7,563.8 790.9,562.8 791.0,561.8 C791.2,560.8 791.4,559.8 791.6,558.8 C791.8,557.9 792.0,556.9 792.2,555.9 C792.3,554.9 792.5,553.9 792.7,553.0 C792.9,552.0 793.1,551.0 793.3,550.0 C793.4,549.0 793.6,548.0 793.8,547.1 C794.0,546.1 794.2,545.1 794.4,544.1 C794.5,543.1 794.7,542.1 794.9,541.2 C795.1,540.2 795.3,539.2 795.4,538.2 C795.6,537.2 795.7,536.2 795.8,535.2 C796.0,534.2 796.1,533.2 796.2,532.3 C796.4,531.3 796.5,530.3 796.6,529.3 C796.8,528.3 796.9,527.3 797.0,526.3 C797.2,525.3 797.3,524.3 797.4,523.3 C797.6,522.3 797.7,521.4 797.8,520.4 C798.0,519.4 798.1,518.4 798.3,517.4 C798.4,516.4 798.5,515.4 798.7,514.4 C798.8,513.4 798.9,512.4 799.1,511.4 C799.2,510.5 799.3,509.5 799.5,508.5 C799.6,507.5 799.7,506.5 799.9,505.5 C800.0,504.5 800.1,503.5 800.3,502.5 C800.4,501.5 800.5,500.5 800.7,499.6 C800.8,498.6 800.9,497.6 801.0,496.6 C801.1,495.6 801.2,494.6 801.3,493.6 C801.4,492.6 801.5,491.6 801.6,490.6 C801.7,489.6 801.8,488.6 801.9,487.6 C802.0,486.6 802.1,485.6 802.2,484.6 C802.3,483.6 802.4,482.6 802.5,481.6 C802.6,480.7 802.7,479.7 802.8,478.7 C802.9,477.7 803.0,476.7 803.1,475.7 C803.2,474.7 803.3,473.7 803.4,472.7 C803.5,471.7 803.6,470.7 803.7,469.7 C803.8,468.7 803.9,467.7 804.0,466.7 C804.1,465.7 804.2,464.7 804.3,463.7 C804.4,462.7 804.5,461.7 804.6,460.8 C804.7,459.8 804.8,458.8 804.9,457.8 C805.0,456.8 805.1,455.8 805.2,454.8 C805.3,453.8 805.4,452.8 805.5,451.8 C805.6,450.8 805.7,449.8 805.8,448.8 C805.9,447.8 806.0,446.8 806.0,445.8 C806.1,444.8 806.2,443.8 806.3,442.8 C806.4,441.8 806.5,440.8 806.6,439.9 C806.7,438.9 806.8,437.9 806.9,436.9 C807.0,435.9 807.1,434.9 807.2,433.9 C807.3,432.9 807.4,431.9 807.5,430.9 C807.6,429.9 807.7,428.9 807.8,427.9 C807.9,426.9 808.0,425.9 808.1,424.9 C808.2,423.9 808.3,422.9 808.4,421.9 C808.5,420.9 808.6,419.9 808.7,419.0 C808.8,418.0 808.9,417.0 809.0,416.0 C809.1,415.0 809.1,414.0 809.2,413.0 C809.3,412.0 809.4,411.0 809.5,410.0 C809.6,409.0 809.7,408.0 809.8,407.0 C809.9,406.0 810.0,405.0 810.1,404.0 C810.2,403.0 810.3,402.0 810.4,401.0 C810.4,400.0 810.5,399.0 810.6,398.0 C810.7,397.0 810.8,396.1 810.9,395.1 C811.0,394.1 811.1,393.1 811.2,392.1 C811.3,391.1 811.4,390.1 811.5,389.1 C811.6,388.1 811.7,387.1 811.8,386.1 C811.9,385.1 812.0,384.1 812.2,383.1 C812.3,382.1 812.4,381.1 812.5,380.1 C812.6,379.1 812.7,378.2 812.8,377.2 C813.0,376.2 813.1,375.2 813.2,374.2 C813.3,373.2 813.4,372.2 813.5,371.2 C813.6,370.2 813.8,369.2 813.9,368.2 C814.0,367.2 814.1,366.2 814.2,365.2 C814.3,364.2 814.4,363.2 814.5,362.3 C814.6,361.3 814.7,360.3 814.8,359.3 C814.9,358.3 815.0,357.3 815.1,356.3 C815.2,355.3 815.3,354.3 815.4,353.3 C815.5,352.3 815.6,351.3 815.7,350.3 C815.8,349.3 815.9,348.3 816.0,347.3 C816.1,346.3 816.2,345.3 816.3,344.3 C816.4,343.3 816.5,342.4 816.6,341.4 C816.7,340.4 816.8,339.4 816.9,338.4 C817.0,337.4 817.1,336.4 817.2,335.4 C817.3,334.4 817.4,333.4 817.5,332.4 C817.6,331.4 817.7,330.4 817.8,329.4 C817.9,328.4 817.9,327.4 818.0,326.4 C818.1,325.4 818.2,324.4 818.3,323.4 C818.4,322.4 818.4,321.4 818.5,320.4 C818.6,319.5 818.7,318.5 818.8,317.5 C818.9,316.5 819.0,315.5 819.0,314.5 C819.1,313.5 819.2,312.5 819.3,311.5 C819.4,310.5 819.5,309.5 819.5,308.5 C819.6,307.5 819.7,306.5 819.8,305.5 C819.9,304.5 820.0,303.5 820.0,302.5 C820.1,301.5 820.2,300.5 820.3,299.5 C820.4,298.5 820.5,297.5 820.6,296.5 C820.6,295.5 820.7,294.5 820.8,293.5 C820.9,292.5 821.0,291.6 821.1,290.6 C821.1,289.6 821.2,288.6 821.3,287.6 C821.4,286.6 821.5,285.6 821.6,284.6 C821.6,283.6 821.7,282.6 821.8,281.6 C821.9,280.6 822.0,279.6 822.1,278.6 C822.2,277.6 822.3,276.6 822.4,275.6 C822.5,274.6 822.6,273.6 822.7,272.6 C822.8,271.6 822.9,270.6 823.0,269.6 C823.1,268.6 823.2,267.7 823.2,266.7 C823.3,265.7 823.4,264.7 823.5,263.7 C823.6,262.7 823.7,261.7 823.8,260.7 C823.9,259.7 824.0,258.7 824.1,257.7 C824.2,256.7 824.3,255.7 824.4,254.7 C824.5,253.7 824.6,252.7 824.7,251.7 C824.8,250.7 824.9,249.7 825.0,248.7 C825.1,247.7 825.2,246.8 825.3,245.8 C825.4,244.8 825.5,243.8 825.6,242.8 C825.7,241.8 825.8,240.8 825.9,239.8 C826.0,238.8 826.2,237.8 826.4,236.8 C826.5,235.8 826.7,234.9 826.9,233.9 C827.0,232.9 827.2,231.9 827.4,230.9 C827.5,229.9 827.7,228.9 827.8,227.9 C828.0,227.0 828.2,226.0 828.3,225.0 C828.5,224.0 828.7,223.0 828.8,222.0 C829.0,221.0 829.2,220.1 829.3,219.1 C829.5,218.1 829.7,217.1 829.8,216.1 C830.0,215.1 830.2,214.1 830.3,213.2 C830.5,212.2 830.6,211.2 830.8,210.2 C831.0,209.2 831.3,208.2 831.5,207.3 C831.7,206.3 832.0,205.3 832.2,204.4 C832.5,203.4 832.7,202.4 833.0,201.5 C833.2,200.5 833.5,199.5 833.7,198.5 C834.0,197.6 834.2,196.6 834.4,195.6 C834.7,194.7 834.9,193.7 835.2,192.7 C835.4,191.8 835.7,190.8 835.9,189.8 C836.2,188.9 836.3,187.9 836.7,186.9 C837.0,186.0 837.4,185.1 837.9,184.2 C838.4,183.3 838.9,182.5 839.4,181.6 C840.0,180.8 840.5,179.9 841.0,179.1 C841.5,178.2 842.0,177.3 842.5,176.5 C843.0,175.7 843.6,174.4 844.1,174.1 C844.6,173.7 845.1,173.7 845.5,174.2 C846.0,174.6 846.5,175.9 846.9,176.7 C847.4,177.6 847.9,178.5 848.3,179.4 C848.8,180.3 849.3,181.2 849.8,182.0 C850.2,182.9 850.7,183.8 851.1,184.7 C851.5,185.6 851.9,186.5 852.1,187.5 C852.4,188.5 852.5,189.5 852.8,190.4 C853.0,191.4 853.2,192.4 853.4,193.4 C853.6,194.3 853.8,195.3 854.0,196.3 C854.2,197.3 854.4,198.3 854.6,199.2 C854.8,200.2 855.0,201.2 855.2,202.2 C855.4,203.2 855.6,204.1 855.8,205.1 C856.0,206.1 856.3,207.1 856.4,208.0 C856.6,209.0 856.8,210.0 857.0,211.0 C857.1,212.0 857.2,213.0 857.4,214.0 C857.5,215.0 857.6,216.0 857.8,216.9 C857.9,217.9 858.0,218.9 858.2,219.9 C858.3,220.9 858.4,221.9 858.6,222.9 C858.7,223.9 858.8,224.9 859.0,225.9 C859.1,226.9 859.2,227.8 859.4,228.8 C859.5,229.8 859.6,230.8 859.8,231.8 C859.9,232.8 860.0,233.8 860.2,234.8 C860.3,235.8 860.4,236.8 860.6,237.8 C860.7,238.8 860.8,239.7 860.9,240.7 C861.1,241.7 861.2,242.7 861.3,243.7 C861.4,244.7 861.6,245.7 861.7,246.7 C861.8,247.7 861.9,248.7 862.0,249.7 C862.2,250.7 862.3,251.7 862.4,252.6 C862.5,253.6 862.7,254.6 862.8,255.6 C862.9,256.6 863.0,257.6 863.1,258.6 C863.3,259.6 863.4,260.6 863.5,261.6 C863.6,262.6 863.8,263.6 863.9,264.6 C864.0,265.5 864.1,266.5 864.2,267.5 C864.4,268.5 864.5,269.5 864.6,270.5 C864.7,271.5 864.9,272.5 865.0,273.5 C865.1,274.5 865.2,275.5 865.3,276.5 C865.5,277.5 865.6,278.5 865.7,279.4 C865.8,280.4 866.0,281.4 866.1,282.4 C866.2,283.4 866.3,284.4 866.5,285.4 C866.6,286.4 866.7,287.4 866.8,288.4 C867.0,289.4 867.1,290.4 867.2,291.3 C867.3,292.3 867.5,293.3 867.6,294.3 C867.7,295.3 867.8,296.3 868.0,297.3 C868.1,298.3 868.2,299.3 868.3,300.3 C868.5,301.3 868.6,302.3 868.7,303.3 C868.8,304.2 869.0,305.2 869.1,306.2 C869.2,307.2 869.3,308.2 869.5,309.2 C869.6,310.2 869.7,311.2 869.8,312.2 C870.0,313.2 870.1,314.2 870.2,315.2 C870.3,316.2 870.5,317.1 870.6,318.1 C870.7,319.1 870.8,320.1 871.0,321.1 C871.1,322.1 871.2,323.1 871.3,324.1 C871.5,325.1 871.6,326.1 871.7,327.1 C871.8,328.1 872.0,329.1 872.1,330.0 C872.2,331.0 872.3,332.0 872.4,333.0 C872.6,334.0 872.7,335.0 872.8,336.0 C872.9,337.0 873.1,338.0 873.2,339.0 C873.3,340.0 873.4,341.0 873.6,342.0 C873.7,342.9 873.8,343.9 873.9,344.9 C874.1,345.9 874.2,346.9 874.3,347.9 C874.4,348.9 874.6,349.9 874.7,350.9 C874.8,351.9 874.9,352.9 875.1,353.9 C875.2,354.8 875.3,355.8 875.4,356.8 C875.6,357.8 875.7,358.8 875.8,359.8 C875.9,360.8 876.1,361.8 876.2,362.8 C876.3,363.8 876.5,364.8 876.6,365.8 C876.7,366.8 876.9,367.7 877.0,368.7 C877.1,369.7 877.2,370.7 877.4,371.7 C877.5,372.7 877.6,373.7 877.8,374.7 C877.9,375.7 878.0,376.7 878.1,377.7 C878.3,378.7 878.4,379.6 878.5,380.6 C878.6,381.6 878.7,382.6 878.9,383.6 C879.0,384.6 879.1,385.6 879.2,386.6 C879.3,387.6 879.4,388.6 879.6,389.6 C879.7,390.6 879.8,391.6 879.9,392.6 C880.0,393.5 880.1,394.5 880.2,395.5 C880.4,396.5 880.5,397.5 880.6,398.5 C880.7,399.5 880.8,400.5 880.9,401.5 C881.1,402.5 881.2,403.5 881.3,404.5 C881.4,405.5 881.5,406.5 881.6,407.5 C881.7,408.4 881.9,409.4 882.0,410.4 C882.1,411.4 882.3,412.4 882.4,413.4 C882.6,414.4 882.7,415.4 882.9,416.4 C883.0,417.4 883.2,418.3 883.3,419.3 C883.5,420.3 883.6,421.3 883.8,422.3 C883.9,423.3 884.0,424.3 884.2,425.3 C884.3,426.3 884.5,427.2 884.6,428.2 C884.8,429.2 884.9,430.2 885.1,431.2 C885.2,432.2 885.4,433.2 885.5,434.2 C885.7,435.2 885.8,436.2 886.0,437.1 C886.1,438.1 886.2,439.1 886.4,440.1 C886.5,441.1 886.7,442.1 886.8,443.1 C887.0,444.1 887.1,445.1 887.3,446.0 C887.4,447.0 887.6,448.0 887.7,449.0 C887.9,450.0 888.0,451.0 888.2,452.0 C888.4,453.0 888.6,453.9 888.7,454.9 C888.9,455.9 889.1,456.9 889.3,457.9 C889.4,458.9 889.6,459.8 889.8,460.8 C889.9,461.8 890.1,462.8 890.3,463.8 C890.5,464.8 890.6,465.8 890.8,466.7 C891.0,467.7 891.2,468.7 891.3,469.7 C891.5,470.7 891.7,471.7 891.9,472.7 C892.0,473.6 892.2,474.6 892.4,475.6 C892.5,476.6 892.7,477.6 892.9,478.6 C893.1,479.5 893.2,480.5 893.4,481.5 C893.6,482.5 893.8,483.5 893.9,484.5 C894.1,485.5 894.3,486.4 894.5,487.4 C894.6,488.4 894.8,489.4 895.0,490.4 C895.3,491.3 895.5,492.3 895.8,493.3 C896.0,494.2 896.2,495.2 896.5,496.2 C896.7,497.2 897.0,498.1 897.2,499.1 C897.5,500.1 897.7,501.0 897.9,502.0 C898.2,503.0 898.4,504.0 898.7,504.9 C898.9,505.9 899.1,506.9 899.4,507.8 C899.6,508.8 899.9,509.8 900.1,510.7 C900.4,511.7 900.6,512.7 900.8,513.7 C901.1,514.6 901.3,515.6 901.6,516.6 C901.8,517.5 902.0,518.5 902.3,519.5 C902.5,520.4 902.8,521.4 903.0,522.4 C903.2,523.4 903.5,524.3 903.7,525.3 C904.0,526.3 904.2,527.2 904.5,528.2 C904.7,529.2 904.9,530.2 905.1,531.1 C905.4,532.1 905.5,533.1 905.8,534.1 C906.0,535.0 906.2,536.0 906.4,537.0 C906.6,538.0 906.8,539.0 907.0,539.9 C907.2,540.9 907.4,541.9 907.6,542.9 C907.8,543.9 908.0,544.8 908.2,545.8 C908.4,546.8 908.6,547.8 908.8,548.8 C909.0,549.7 909.2,550.7 909.4,551.7 C909.6,552.7 909.9,553.6 910.1,554.6 C910.3,555.6 910.5,556.6 910.7,557.6 C910.9,558.5 911.1,559.5 911.4,560.5 C911.6,561.5 911.8,562.4 912.0,563.4 C912.2,564.4 912.5,565.4 912.7,566.3 C912.9,567.3 913.1,568.3 913.3,569.3 C913.6,570.2 913.8,571.2 914.0,572.2 C914.2,573.2 914.4,574.1 914.7,575.1 C914.9,576.1 915.1,577.1 915.3,578.0 C915.5,579.0 915.8,580.0 916.0,581.0 C916.2,581.9 916.5,582.9 916.7,583.9 C917.0,584.8 917.2,585.8 917.4,586.8 C917.7,587.8 917.9,588.7 918.2,589.7 C918.4,590.7 918.7,591.6 918.9,592.6 C919.1,593.6 919.4,594.5 919.6,595.5 C919.9,596.5 920.1,597.5 920.4,598.4 C920.6,599.4 920.8,600.4 921.1,601.3 C921.3,602.3 921.6,603.3 921.8,604.2 C922.1,605.2 922.3,606.2 922.6,607.1 C922.9,608.1 923.1,609.1 923.4,610.0 C923.6,611.0 923.9,612.0 924.1,612.9 C924.4,613.9 924.6,614.9 924.9,615.8 C925.2,616.8 925.4,617.8 925.7,618.7 C925.9,619.7 926.2,620.7 926.4,621.6 C926.7,622.6 926.9,623.6 927.2,624.5 C927.5,625.5 927.7,626.5 928.0,627.4 C928.2,628.4 928.5,629.4 928.7,630.3 C929.0,631.3 929.2,632.3 929.5,633.2 C929.8,634.2 930.0,635.2 930.3,636.1 C930.5,637.1 930.8,638.1 931.0,639.0 C931.3,640.0 931.6,641.0 931.8,641.9 C932.1,642.9 932.3,643.9 932.6,644.8 C932.8,645.8 933.1,646.8 933.4,647.7 C933.6,648.7 933.9,649.7 934.1,650.6 C934.4,651.6 934.7,652.6 934.9,653.5 C935.2,654.5 935.5,655.5 935.7,656.4 C936.0,657.4 936.3,658.3 936.6,659.3 C936.8,660.3 937.1,661.2 937.4,662.2 C937.6,663.2 937.9,664.1 938.2,665.1 C938.4,666.0 938.7,667.0 939.0,668.0 C939.2,668.9 939.5,669.9 939.8,670.9 C940.0,671.8 940.3,672.8 940.5,673.8 C940.8,674.7 941.1,675.7 941.3,676.7 C941.6,677.6 941.8,678.6 942.1,679.6 C942.4,680.5 942.6,681.5 942.9,682.5 C943.1,683.4 943.4,684.4 943.6,685.4 C943.9,686.3 944.2,687.3 944.4,688.3 C944.7,689.2 945.0,690.2 945.2,691.1 C945.5,692.1 945.8,693.1 946.1,694.0 C946.3,695.0 946.6,695.9 946.9,696.9 C947.2,697.9 947.4,698.8 947.7,699.8 C948.0,700.7 948.3,701.7 948.6,702.6 C949.0,703.6 949.3,704.5 949.6,705.5 C950.0,706.4 950.3,707.4 950.6,708.3 C951.0,709.2 951.3,710.2 951.6,711.1 C952.0,712.1 952.3,713.0 952.6,714.0 C953.0,714.9 953.3,715.9 953.6,716.8 C953.9,717.7 954.3,718.7 954.6,719.6 C954.9,720.6 955.2,721.5 955.6,722.5 C955.9,723.4 956.2,724.4 956.6,725.3 C956.9,726.2 957.3,727.1 957.8,728.1 C958.2,729.0 958.6,729.9 959.0,730.8 C959.4,731.7 959.8,732.6 960.2,733.5 C960.6,734.4 961.0,735.3 961.4,736.3 C961.9,737.2 962.3,738.1 962.7,739.0 C963.1,739.9 963.5,740.8 963.9,741.7 C964.3,742.6 964.7,743.6 965.1,744.5 C965.6,745.4 966.0,746.3 966.4,747.2 C966.8,748.1 967.2,749.0 967.7,749.9 C968.1,750.8 968.7,751.6 969.2,752.5 C969.7,753.4 970.2,754.2 970.7,755.1 C971.3,755.9 971.7,756.8 972.3,757.6 C972.9,758.4 973.6,759.1 974.3,759.8 C975.0,760.6 975.7,761.4 976.4,762.0 C977.1,762.6 977.8,763.6 978.5,763.6 C979.1,763.6 979.8,762.8 980.5,762.2 C981.1,761.6 981.8,760.7 982.5,760.0 C983.2,759.2 983.8,758.5 984.5,757.8 C985.1,757.0 985.9,756.3 986.4,755.5 C986.9,754.6 987.3,753.7 987.7,752.8 C988.1,751.9 988.4,750.9 988.7,750.0 C989.1,749.1 989.4,748.1 989.8,747.2 C990.1,746.2 990.5,745.3 990.8,744.4 C991.2,743.4 991.5,742.5 991.9,741.6 C992.2,740.6 992.5,739.7 992.8,738.7 C993.1,737.8 993.3,736.8 993.6,735.8 C993.8,734.8 994.1,733.9 994.3,732.9 C994.5,731.9 994.8,731.0 995.0,730.0 C995.3,729.0 995.5,728.1 995.8,727.1 C996.0,726.1 996.3,725.1 996.5,724.2 C996.7,723.2 997.0,722.2 997.2,721.3 C997.5,720.3 997.7,719.3 998.0,718.4 C998.2,717.4 998.4,716.4 998.7,715.5 C998.9,714.5 999.2,713.5 999.4,712.5 C999.7,711.6 999.9,710.6 1000.2,709.6 C1000.4,708.7 1000.6,707.7 1000.9,706.7 C1001.1,705.8 1001.4,704.8 1001.6,703.8 C1001.9,702.8 1002.1,701.9 1002.3,700.9 C1002.6,699.9 1002.8,699.0 1003.1,698.0 C1003.3,697.0 1003.6,696.1 1003.8,695.1 C1004.1,694.1 1004.3,693.1 1004.5,692.2 C1004.8,691.2 1005.0,690.2 1005.3,689.3 C1005.5,688.3 1005.8,687.3 1006.0,686.4 C1006.2,685.4 1006.5,684.4 1006.7,683.4 C1007.0,682.5 1007.2,681.5 1007.5,680.5 C1007.7,679.6 1008.1,678.6 1008.4,677.7 C1008.7,676.7 1009.0,675.8 1009.3,674.8 C1009.7,673.9 1010.0,673.0 1010.3,672.0 C1010.7,671.1 1011.0,670.1 1011.3,669.2 C1011.6,668.2 1012.0,667.3 1012.3,666.3 C1012.6,665.4 1013.0,664.4 1013.3,663.5 C1013.6,662.6 1013.9,661.6 1014.3,660.7 C1014.6,659.7 1015.0,658.8 1015.4,657.9 C1015.8,657.0 1016.2,656.1 1016.6,655.1 C1017.0,654.2 1017.4,653.3 1017.8,652.4 C1018.2,651.5 1018.6,650.6 1019.0,649.7 C1019.4,648.7 1019.8,647.8 1020.2,646.9 C1020.6,646.0 1021.0,645.1 1021.5,644.2 C1022.0,643.3 1022.5,642.5 1023.0,641.6 C1023.6,640.8 1024.2,640.0 1024.7,639.1 C1025.3,638.3 1025.8,637.4 1026.4,636.7 C1027.0,635.9 1027.7,635.2 1028.4,634.6 C1029.2,634.0 1030.2,633.6 1031.0,633.1 C1031.9,632.7 1032.8,632.0 1033.7,631.9 C1034.6,631.8 1035.4,632.1 1036.2,632.5 C1037.1,632.8 1037.9,633.6 1038.7,634.1 C1039.6,634.7 1040.4,635.2 1041.3,635.8 C1042.1,636.3 1043.0,636.8 1043.7,637.5 C1044.3,638.2 1044.8,639.0 1045.2,639.9 C1045.7,640.8 1045.9,641.8 1046.3,642.7 C1046.6,643.6 1047.0,644.6 1047.3,645.5 C1047.7,646.4 1048.0,647.4 1048.4,648.3 C1048.7,649.3 1049.1,650.2 1049.4,651.1 C1049.7,652.1 1050.1,653.0 1050.4,654.0 C1050.7,654.9 1050.9,655.9 1051.2,656.9 C1051.4,657.8 1051.7,658.8 1051.9,659.8 C1052.2,660.7 1052.4,661.7 1052.6,662.7 C1052.9,663.6 1053.1,664.6 1053.4,665.6 C1053.6,666.5 1053.9,667.5 1054.2,668.5 C1054.5,669.4 1054.9,670.3 1055.3,671.2 C1055.7,672.2 1056.0,673.1 1056.4,674.0 C1056.8,675.0 1057.2,675.9 1057.5,676.8 C1057.9,677.7 1058.3,678.7 1058.6,679.6 C1058.9,680.6 1059.2,681.5 1059.5,682.5 C1059.7,683.4 1060.0,684.4 1060.3,685.4 C1060.5,686.3 1060.8,687.3 1061.0,688.3 C1061.3,689.2 1061.6,690.2 1061.8,691.2 C1062.1,692.1 1062.4,693.1 1062.6,694.1 C1062.9,695.0 1063.1,696.0 1063.4,697.0 C1063.7,697.9 1063.9,698.9 1064.2,699.9 C1064.5,700.8 1064.7,701.8 1065.0,702.7 C1065.3,703.7 1065.6,704.7 1065.9,705.6 C1066.2,706.6 1066.4,707.5 1066.7,708.5 C1067.0,709.4 1067.3,710.4 1067.6,711.4 C1067.9,712.3 1068.2,713.3 1068.5,714.2 C1068.7,715.2 1069.0,716.2 1069.3,717.1 C1069.6,718.1 1069.9,719.0 1070.2,720.0 C1070.5,720.9 1070.8,721.9 1071.0,722.9 C1071.3,723.8 1071.6,724.8 1071.9,725.7 C1072.2,726.7 1072.5,727.6 1072.8,728.6 C1073.0,729.6 1073.3,730.5 1073.6,731.5 C1073.9,732.4 1074.2,733.4 1074.5,734.4 C1074.8,735.3 1075.1,736.3 1075.3,737.2 C1075.6,738.2 1075.9,739.1 1076.2,740.1 C1076.5,741.1 1076.8,742.0 1077.1,743.0 C1077.3,743.9 1077.6,744.9 1077.9,745.9 C1078.2,746.8 1078.5,747.8 1078.7,748.7 C1079.0,749.7 1079.3,750.7 1079.6,751.6 C1079.9,752.6 1080.1,753.5 1080.4,754.5 C1080.7,755.5 1081.0,756.4 1081.2,757.4 C1081.5,758.3 1081.8,759.3 1082.1,760.2 C1082.5,761.2 1082.8,762.1 1083.2,763.0 C1083.6,764.0 1084.0,764.9 1084.3,765.8 C1084.7,766.8 1085.1,767.7 1085.4,768.6 C1085.8,769.5 1086.2,770.5 1086.6,771.4 C1086.9,772.3 1087.3,773.3 1087.7,774.2 C1088.1,775.1 1088.4,776.0 1088.8,776.9 C1089.2,777.9 1089.6,778.8 1090.0,779.7 C1090.4,780.6 1090.8,781.5 1091.2,782.5 C1091.6,783.4 1092.0,784.3 1092.3,785.2 C1092.7,786.2 1093.1,787.1 1093.5,788.0 C1093.9,788.9 1094.4,789.8 1094.9,790.7 C1095.3,791.6 1095.8,792.4 1096.3,793.3 C1096.8,794.2 1097.2,795.1 1097.7,795.9 C1098.2,796.8 1098.7,797.7 1099.1,798.6 C1099.6,799.5 1100.1,800.3 1100.6,801.2 C1101.1,802.1 1101.6,802.9 1102.1,803.8 C1102.6,804.7 1103.2,805.5 1103.7,806.4 C1104.2,807.2 1104.7,808.1 1105.3,808.9 C1105.8,809.8 1106.3,810.6 1106.8,811.5 C1107.4,812.3 1107.9,813.2 1108.4,814.0 C1108.9,814.9 1109.5,815.7 1110.1,816.5 C1110.6,817.3 1111.2,818.2 1111.8,819.0 C1112.3,819.8 1112.9,820.6 1113.5,821.5 C1114.0,822.3 1114.6,823.1 1115.2,823.9 C1115.8,824.7 1116.3,825.6 1116.9,826.4 C1117.5,827.2 1118.0,828.0 1118.6,828.8 C1119.2,829.7 1119.7,830.5 1120.3,831.3 C1120.9,832.1 1121.5,832.9 1122.1,833.7 C1122.7,834.5 1123.3,835.3 1123.9,836.1 C1124.5,836.9 1125.1,837.7 1125.8,838.4 C1126.5,839.2 1127.2,839.8 1128.0,840.5 C1128.7,841.1 1129.5,841.7 1130.3,842.4 C1131.1,843.0 1131.8,843.7 1132.6,844.3 C1133.4,845.0 1134.1,845.6 1134.9,846.2 C1135.7,846.9 1136.4,847.5 1137.2,848.2 C1138.0,848.8 1138.7,849.4 1139.5,850.1 C1140.3,850.7 1141.0,851.4 1141.8,852.0 C1142.6,852.6 1143.4,853.3 1144.1,853.9 C1144.9,854.5 1145.7,855.2 1146.5,855.8 C1147.2,856.4 1148.0,857.1 1148.8,857.7 C1149.6,858.3 1150.4,858.8 1151.3,859.3 C1152.1,859.9 1153.0,860.3 1153.9,860.8 C1154.8,861.3 1155.6,861.8 1156.5,862.2 C1157.4,862.7 1158.3,863.3 1159.2,863.6 C1160.1,864.0 1161.0,864.3 1162.0,864.5 C1163.0,864.7 1164.0,864.9 1165.0,865.1 C1165.9,865.2 1166.9,865.5 1167.9,865.6 C1168.9,865.6 1169.9,865.5 1170.8,865.3 C1171.8,865.1 1172.8,864.8 1173.7,864.6 C1174.7,864.4 1175.7,864.2 1176.6,863.9 C1177.6,863.5 1178.5,863.1 1179.4,862.7 C1180.3,862.3 1181.1,861.7 1182.0,861.2 C1182.9,860.7 1183.8,860.3 1184.6,859.8 C1185.5,859.2 1186.3,858.7 1187.1,858.1 C1187.9,857.5 1188.6,856.8 1189.3,856.1 C1190.0,855.4 1190.7,854.7 1191.4,853.9 C1192.1,853.2 1192.8,852.5 1193.5,851.8 C1194.2,851.1 1195.0,850.4 1195.7,849.7 C1196.4,849.0 1197.1,848.3 1197.8,847.6 C1198.5,846.9 1199.2,846.2 1199.9,845.5 C1200.6,844.8 1201.3,844.0 1202.0,843.3 C1202.7,842.6 1203.4,841.9 1204.1,841.2 C1204.9,840.5 1205.6,839.9 1206.4,839.3 C1207.2,838.7 1208.0,838.1 1208.8,837.5 C1209.6,836.9 1210.4,836.2 1211.2,835.7 C1212.0,835.1 1212.8,834.4 1213.6,833.9 C1214.5,833.4 1215.4,832.9 1216.2,832.5 C1217.1,832.0 1218.0,831.6 1218.9,831.1 C1219.8,830.7 1220.7,830.1 1221.6,829.8 C1222.5,829.5 1223.5,829.3 1224.5,829.2 C1225.5,829.1 1226.5,829.0 1227.5,829.1 C1228.4,829.2 1229.4,829.4 1230.3,829.7 C1231.3,830.0 1232.1,830.5 1233.0,830.9 C1233.9,831.4 1234.9,831.8 1235.7,832.3 C1236.6,832.8 1237.4,833.3 1238.2,833.9 C1239.0,834.5 1239.7,835.2 1240.5,835.9 C1241.2,836.5 1242.0,837.2 1242.7,837.8 C1243.5,838.5 1244.3,839.1 1245.0,839.8 C1245.8,840.5 1246.5,841.1 1247.3,841.8 C1248.0,842.4 1248.8,843.1 1249.5,843.8 C1250.2,844.4 1251.0,845.1 1251.7,845.8 C1252.5,846.4 1253.2,847.1 1254.0,847.8 C1254.7,848.4 1255.5,849.1 1256.2,849.8 C1257.0,850.4 1257.7,851.1 1258.5,851.7 C1259.2,852.4 1260.0,853.1 1260.7,853.7 C1261.5,854.4 1262.2,855.1 1263.0,855.7 C1263.7,856.4 1264.5,857.0 1265.2,857.7 C1266.0,858.4 1266.7,859.0 1267.5,859.7 C1268.2,860.3 1269.0,861.0 1269.8,861.6 C1270.6,862.2 1271.4,862.8 1272.2,863.4 C1273.0,863.9 1273.8,864.5 1274.7,865.1 C1275.5,865.6 1276.3,866.2 1277.1,866.8 C1277.9,867.4 1278.8,867.9 1279.6,868.5 C1280.4,869.0 1281.3,869.6 1282.1,870.1 C1283.0,870.6 1283.9,871.1 1284.7,871.6 C1285.6,872.2 1286.4,872.7 1287.3,873.2 C1288.1,873.7 1289.0,874.2 1289.9,874.7 C1290.7,875.2 1291.6,875.6 1292.5,876.0 C1293.4,876.5 1294.3,876.9 1295.2,877.4 C1296.1,877.8 1297.0,878.3 1297.9,878.7 C1298.8,879.1 1299.7,879.5 1300.7,879.9 C1301.6,880.4 1302.5,880.7 1303.4,881.1 C1304.3,881.5 1305.2,881.9 1306.2,882.3 C1307.1,882.7 1308.3,883.3 1308.9,883.5 C1309.5,883.8 1309.7,883.9 1309.8,883.9" stroke="#000" stroke-width="7.5" fill="none" stroke-linejoin="round" stroke-linecap="butt"/>
<path d="M181.0,881.5 C181.4,881.8 182.6,882.7 183.4,883.3 C184.2,883.9 185.0,884.5 185.8,885.1 C186.6,885.7 187.4,886.3 188.2,886.9 C189.0,887.5 189.8,888.1 190.6,888.7 C191.4,889.2 192.3,889.8 193.1,890.3 C194.0,890.8 194.9,891.3 195.7,891.8 C196.6,892.3 197.5,892.8 198.3,893.3 C199.2,893.8 200.1,894.3 201.0,894.7 C201.9,895.1 202.8,895.5 203.8,895.8 C204.7,896.2 205.6,896.6 206.5,896.9 C207.5,897.3 208.4,897.7 209.3,898.0 C210.3,898.4 211.2,898.9 212.1,899.1 C213.0,899.2 213.9,899.0 214.8,898.8 C215.7,898.5 216.6,897.9 217.5,897.4 C218.4,896.9 219.3,896.5 220.1,896.0 C221.0,895.5 222.0,895.1 222.7,894.5 C223.5,893.9 224.1,893.1 224.7,892.3 C225.3,891.6 225.9,890.7 226.5,889.9 C227.1,889.1 227.7,888.3 228.2,887.5 C228.8,886.6 229.2,885.8 229.6,884.8 C229.9,883.9 230.2,883.0 230.6,882.0 C230.9,881.1 231.2,880.1 231.5,879.2 C231.9,878.2 232.2,877.3 232.5,876.3 C232.8,875.4 233.2,874.4 233.5,873.5 C233.8,872.6 234.2,871.6 234.5,870.7 C234.9,869.7 235.2,868.8 235.6,867.9 C236.0,867.0 236.3,866.0 236.7,865.1 C237.1,864.2 237.5,863.2 237.8,862.3 C238.2,861.4 238.6,860.5 238.9,859.5 C239.3,858.6 239.7,857.7 240.0,856.7 C240.4,855.8 240.7,854.9 241.1,853.9 C241.4,853.0 241.7,852.0 242.0,851.1 C242.4,850.1 242.7,849.2 243.0,848.2 C243.3,847.3 243.6,846.3 244.0,845.4 C244.3,844.5 244.6,843.5 244.9,842.6 C245.3,841.6 245.6,840.7 245.9,839.7 C246.2,838.8 246.5,837.8 246.9,836.9 C247.2,835.9 247.5,835.0 247.8,834.0 C248.1,833.1 248.5,832.1 248.8,831.2 C249.1,830.2 249.4,829.3 249.7,828.3 C250.0,827.4 250.4,826.4 250.7,825.5 C251.0,824.5 251.3,823.6 251.6,822.7 C251.9,821.7 252.3,820.8 252.6,819.8 C252.9,818.9 253.2,817.9 253.5,817.0 C253.8,816.0 254.1,815.0 254.4,814.1 C254.7,813.1 255.0,812.2 255.3,811.2 C255.6,810.3 255.9,809.3 256.2,808.4 C256.5,807.4 256.8,806.5 257.1,805.5 C257.4,804.6 257.7,803.6 258.0,802.7 C258.4,801.7 258.7,800.8 259.0,799.8 C259.4,798.9 259.7,798.0 260.1,797.0 C260.5,796.1 260.8,795.2 261.2,794.2 C261.6,793.3 261.9,792.4 262.3,791.5 C262.7,790.5 263.0,789.6 263.5,788.7 C264.0,787.8 264.6,787.1 265.2,786.2 C265.8,785.4 266.4,784.7 267.0,783.9 C267.6,783.1 268.2,782.2 268.8,781.5 C269.4,780.7 270.0,779.9 270.8,779.2 C271.5,778.6 272.4,778.1 273.2,777.6 C274.1,777.1 275.0,776.5 275.8,776.1 C276.7,775.7 277.6,775.1 278.5,775.0 C279.4,774.9 280.3,775.4 281.2,775.7 C282.1,776.1 283.1,776.5 284.0,776.9 C284.9,777.3 285.9,777.5 286.7,778.0 C287.6,778.5 288.4,779.1 289.1,779.8 C289.8,780.4 290.4,781.3 291.1,782.0 C291.7,782.8 292.4,783.5 293.0,784.3 C293.7,785.1 294.4,785.8 295.0,786.6 C295.6,787.4 296.2,788.2 296.7,789.0 C297.2,789.9 297.7,790.7 298.2,791.6 C298.7,792.5 299.2,793.4 299.7,794.2 C300.2,795.1 300.7,796.0 301.2,796.8 C301.7,797.7 302.2,798.6 302.7,799.4 C303.2,800.3 303.7,801.2 304.1,802.0 C304.6,802.9 305.1,803.8 305.6,804.6 C306.1,805.5 306.6,806.4 307.1,807.3 C307.6,808.1 308.1,809.0 308.6,809.9 C309.1,810.7 309.6,811.6 310.1,812.5 C310.6,813.3 311.0,814.2 311.6,815.0 C312.1,815.9 312.8,816.7 313.4,817.5 C314.0,818.2 314.6,819.0 315.3,819.8 C315.9,820.6 316.5,821.3 317.1,822.1 C317.8,822.9 318.4,823.7 319.1,824.4 C319.8,825.1 320.5,825.7 321.3,826.3 C322.1,826.9 323.0,827.4 323.9,827.9 C324.7,828.4 325.6,828.9 326.5,829.4 C327.3,829.9 328.1,830.5 329.0,830.9 C329.9,831.4 330.9,831.7 331.8,832.0 C332.8,832.4 333.7,832.6 334.7,832.9 C335.6,833.2 336.6,833.5 337.6,833.8 C338.5,834.0 339.5,834.3 340.4,834.6 C341.4,834.9 342.3,835.2 343.3,835.5 C344.3,835.8 345.2,836.1 346.2,836.4 C347.1,836.7 348.1,836.9 349.0,837.3 C349.9,837.7 350.8,838.1 351.7,838.6 C352.6,839.0 353.5,839.5 354.3,840.1 C355.1,840.6 355.9,841.3 356.6,842.0 C357.4,842.6 358.1,843.3 358.8,844.0 C359.5,844.7 360.2,845.4 361.0,846.1 C361.7,846.8 362.4,847.5 363.1,848.2 C363.9,848.9 364.6,849.5 365.3,850.2 C366.0,850.9 366.7,851.6 367.4,852.3 C368.2,853.0 368.9,853.8 369.6,854.5 C370.3,855.2 371.0,855.9 371.7,856.6 C372.4,857.3 373.1,858.0 373.8,858.7 C374.5,859.4 375.2,860.1 375.9,860.8 C376.6,861.5 377.3,862.3 378.0,863.0 C378.7,863.7 379.3,864.5 380.0,865.2 C380.7,866.0 381.3,866.7 382.0,867.5 C382.7,868.2 383.4,868.9 384.0,869.7 C384.7,870.4 385.4,871.2 386.0,871.9 C386.7,872.6 387.4,873.4 388.0,874.1 C388.7,874.9 389.3,875.7 390.0,876.4 C390.6,877.2 391.3,878.0 392.0,878.7 C392.6,879.4 393.3,880.1 394.1,880.7 C394.9,881.3 395.8,881.9 396.6,882.3 C397.5,882.7 398.4,883.3 399.2,883.3 C400.1,883.3 401.0,882.8 401.8,882.3 C402.6,881.8 403.5,881.2 404.1,880.5 C404.8,879.8 405.3,878.9 405.8,878.0 C406.4,877.2 406.9,876.3 407.4,875.5 C407.9,874.6 408.4,873.8 408.9,872.9 C409.4,872.1 409.9,871.2 410.4,870.3 C410.9,869.4 411.4,868.6 411.9,867.7 C412.3,866.8 412.8,865.9 413.2,865.0 C413.6,864.1 413.9,863.1 414.2,862.2 C414.6,861.3 414.9,860.3 415.2,859.3 C415.5,858.4 415.8,857.4 416.1,856.5 C416.4,855.5 416.7,854.6 417.0,853.6 C417.3,852.7 417.7,851.7 418.0,850.8 C418.2,849.8 418.5,848.9 418.8,847.9 C419.1,847.0 419.3,846.0 419.6,845.0 C419.8,844.0 420.0,843.1 420.3,842.1 C420.5,841.1 420.8,840.2 421.0,839.2 C421.3,838.2 421.5,837.3 421.7,836.3 C422.0,835.3 422.2,834.3 422.5,833.4 C422.7,832.4 422.9,831.4 423.1,830.4 C423.3,829.5 423.5,828.5 423.7,827.5 C423.9,826.5 424.1,825.5 424.3,824.6 C424.5,823.6 424.7,822.6 424.9,821.6 C425.0,820.6 425.2,819.6 425.4,818.7 C425.6,817.7 425.8,816.7 426.0,815.7 C426.2,814.7 426.4,813.8 426.5,812.8 C426.7,811.8 426.9,810.8 427.1,809.8 C427.3,808.8 427.5,807.9 427.6,806.9 C427.8,805.9 428.0,804.9 428.2,803.9 C428.4,802.9 428.5,802.0 428.7,801.0 C428.9,800.0 429.0,799.0 429.2,798.0 C429.3,797.0 429.5,796.0 429.6,795.0 C429.7,794.0 429.9,793.1 430.0,792.1 C430.2,791.1 430.3,790.1 430.4,789.1 C430.6,788.1 430.7,787.1 430.9,786.1 C431.0,785.1 431.1,784.1 431.3,783.2 C431.4,782.2 431.5,781.2 431.7,780.2 C431.8,779.2 432.0,778.2 432.1,777.2 C432.3,776.2 432.4,775.2 432.6,774.2 C432.7,773.3 432.9,772.3 433.0,771.3 C433.2,770.3 433.3,769.3 433.5,768.3 C433.6,767.3 433.8,766.3 433.9,765.3 C434.1,764.4 434.2,763.4 434.4,762.4 C434.5,761.4 434.7,760.4 434.8,759.4 C435.0,758.4 435.2,757.5 435.4,756.5 C435.6,755.5 435.8,754.5 436.0,753.5 C436.2,752.6 436.4,751.6 436.6,750.6 C436.8,749.6 437.0,748.6 437.2,747.7 C437.4,746.7 437.6,745.7 437.8,744.7 C438.0,743.7 438.2,742.8 438.4,741.8 C438.6,740.8 438.8,739.8 438.9,738.8 C439.1,737.8 439.3,736.9 439.5,735.9 C439.7,734.9 439.9,733.9 440.0,732.9 C440.2,731.9 440.4,731.0 440.6,730.0 C440.8,729.0 441.0,728.0 441.1,727.0 C441.3,726.0 441.5,725.1 441.7,724.1 C441.9,723.1 442.0,722.1 442.2,721.1 C442.4,720.1 442.6,719.2 442.8,718.2 C443.1,717.2 443.3,716.2 443.5,715.3 C443.7,714.3 443.9,713.3 444.2,712.3 C444.4,711.4 444.6,710.4 444.8,709.4 C445.0,708.4 445.3,707.5 445.5,706.5 C445.7,705.5 445.9,704.5 446.1,703.6 C446.4,702.6 446.6,701.6 446.8,700.6 C447.0,699.7 447.2,698.7 447.4,697.7 C447.6,696.7 447.8,695.7 448.0,694.8 C448.2,693.8 448.4,692.8 448.6,691.8 C448.8,690.8 449.0,689.8 449.2,688.9 C449.3,687.9 449.5,686.9 449.7,685.9 C449.9,684.9 450.1,684.0 450.3,683.0 C450.5,682.0 450.7,681.0 450.9,680.0 C451.1,679.1 451.4,678.1 451.6,677.1 C451.9,676.2 452.2,675.2 452.4,674.2 C452.7,673.3 453.0,672.3 453.2,671.3 C453.5,670.4 453.8,669.4 454.0,668.5 C454.3,667.5 454.6,666.5 454.8,665.6 C455.1,664.6 455.3,663.6 455.6,662.7 C456.0,661.7 456.4,660.8 456.7,659.9 C457.1,659.0 457.5,658.1 457.9,657.1 C458.4,656.2 458.8,655.3 459.2,654.4 C459.6,653.5 459.9,652.5 460.4,651.7 C460.8,650.8 461.2,649.8 461.8,649.1 C462.5,648.5 463.4,648.1 464.3,647.7 C465.2,647.2 466.1,646.6 467.0,646.5 C467.9,646.3 468.8,646.2 469.6,646.5 C470.5,646.8 471.3,647.6 472.1,648.1 C472.9,648.7 473.8,649.3 474.6,649.9 C475.4,650.5 476.2,651.0 476.8,651.8 C477.4,652.5 477.8,653.5 478.3,654.3 C478.8,655.2 479.2,656.1 479.7,657.0 C480.1,657.9 480.6,658.8 481.0,659.7 C481.5,660.6 481.9,661.5 482.4,662.4 C482.8,663.3 483.2,664.2 483.5,665.1 C483.9,666.1 484.1,667.0 484.4,668.0 C484.7,668.9 485.0,669.9 485.3,670.8 C485.6,671.8 485.9,672.8 486.2,673.7 C486.5,674.7 486.8,675.6 487.1,676.6 C487.4,677.5 487.7,678.5 488.0,679.4 C488.3,680.4 488.6,681.3 488.9,682.3 C489.3,683.2 489.6,684.2 489.9,685.1 C490.2,686.1 490.5,687.0 490.8,688.0 C491.2,688.9 491.5,689.9 491.8,690.8 C492.1,691.8 492.4,692.7 492.8,693.7 C493.1,694.6 493.4,695.6 493.7,696.5 C494.0,697.5 494.4,698.4 494.7,699.3 C495.0,700.3 495.3,701.2 495.6,702.2 C495.9,703.2 496.1,704.1 496.4,705.1 C496.6,706.1 496.9,707.0 497.1,708.0 C497.4,709.0 497.7,709.9 497.9,710.9 C498.2,711.9 498.4,712.8 498.7,713.8 C498.9,714.8 499.2,715.7 499.4,716.7 C499.7,717.7 499.9,718.6 500.2,719.6 C500.5,720.6 500.8,721.5 501.2,722.4 C501.5,723.4 502.0,724.2 502.5,725.1 C502.9,726.0 503.4,726.9 503.8,727.8 C504.3,728.7 504.7,729.6 505.1,730.5 C505.6,731.4 506.0,732.3 506.6,733.1 C507.2,733.9 507.9,734.5 508.6,735.2 C509.4,735.9 510.1,736.6 510.9,737.3 C511.6,737.9 512.3,738.6 513.1,739.2 C513.9,739.8 514.8,740.3 515.6,740.8 C516.5,741.3 517.4,741.7 518.3,742.2 C519.2,742.6 520.1,743.1 521.0,743.5 C521.9,744.0 522.8,744.4 523.7,744.9 C524.6,745.3 525.5,745.8 526.4,746.2 C527.2,746.7 528.1,747.1 529.0,747.5 C529.9,748.0 530.9,748.4 531.7,748.9 C532.6,749.4 533.4,750.0 534.2,750.6 C535.0,751.2 535.8,751.8 536.5,752.4 C537.3,753.1 538.1,753.6 538.9,754.3 C539.6,755.0 540.3,755.7 541.0,756.4 C541.7,757.2 542.3,758.0 542.9,758.7 C543.5,759.5 544.2,760.3 544.8,761.0 C545.4,761.8 546.1,762.6 546.7,763.4 C547.3,764.2 547.8,765.0 548.3,765.9 C548.8,766.7 549.3,767.6 549.8,768.5 C550.3,769.4 550.8,770.2 551.3,771.1 C551.8,772.0 552.3,772.8 552.8,773.7 C553.2,774.6 553.7,775.5 554.1,776.4 C554.6,777.3 555.0,778.2 555.5,779.1 C555.9,780.0 556.4,780.8 556.8,781.7 C557.3,782.6 557.7,783.5 558.2,784.4 C558.6,785.3 559.1,786.2 559.5,787.1 C560.0,788.0 560.4,788.9 560.8,789.8 C561.3,790.7 561.7,791.6 562.2,792.5 C562.6,793.4 563.1,794.3 563.5,795.2 C564.0,796.1 564.4,796.9 564.9,797.8 C565.3,798.7 565.8,799.6 566.2,800.5 C566.7,801.4 567.1,802.3 567.6,803.2 C568.0,804.1 568.4,805.0 568.9,805.9 C569.3,806.8 569.8,807.7 570.2,808.6 C570.7,809.5 571.1,810.4 571.6,811.3 C572.0,812.2 572.5,813.0 572.9,813.9 C573.4,814.8 573.8,815.7 574.3,816.6 C574.7,817.5 575.1,818.4 575.6,819.3 C576.1,820.2 576.7,821.0 577.2,821.8 C577.8,822.7 578.4,823.4 579.0,824.3 C579.6,825.1 580.2,825.9 580.7,826.7 C581.3,827.5 581.9,828.3 582.5,829.1 C583.1,829.9 583.7,831.0 584.3,831.5 C584.9,832.0 585.4,832.5 586.0,832.2 C586.5,831.9 587.0,830.7 587.6,829.8 C588.1,829.0 588.6,828.1 589.1,827.3 C589.6,826.4 590.2,825.6 590.7,824.7 C591.2,823.9 591.8,823.0 592.2,822.2 C592.7,821.3 593.2,820.4 593.6,819.5 C594.0,818.6 594.2,817.6 594.5,816.7 C594.8,815.7 595.1,814.7 595.4,813.8 C595.7,812.8 596.0,811.9 596.3,810.9 C596.6,810.0 596.8,809.0 597.1,808.1 C597.4,807.1 597.7,806.1 598.0,805.2 C598.3,804.2 598.6,803.3 598.9,802.3 C599.2,801.4 599.5,800.4 599.7,799.4 C600.0,798.5 600.2,797.5 600.4,796.5 C600.6,795.5 600.8,794.6 600.9,793.6 C601.1,792.6 601.3,791.6 601.5,790.6 C601.6,789.6 601.8,788.6 602.0,787.7 C602.2,786.7 602.4,785.7 602.5,784.7 C602.7,783.7 602.9,782.7 603.1,781.8 C603.3,780.8 603.4,779.8 603.6,778.8 C603.8,777.8 604.0,776.8 604.2,775.9 C604.3,774.9 604.5,773.9 604.7,772.9 C604.9,771.9 605.1,770.9 605.2,770.0 C605.4,769.0 605.5,768.0 605.7,767.0 C605.8,766.0 605.9,765.0 606.1,764.0 C606.2,763.0 606.3,762.0 606.5,761.0 C606.6,760.0 606.7,759.1 606.9,758.1 C607.0,757.1 607.1,756.1 607.3,755.1 C607.4,754.1 607.5,753.1 607.7,752.1 C607.8,751.1 607.9,750.1 608.0,749.1 C608.2,748.2 608.3,747.2 608.4,746.2 C608.6,745.2 608.7,744.2 608.8,743.2 C609.0,742.2 609.1,741.2 609.2,740.2 C609.4,739.2 609.5,738.2 609.6,737.2 C609.7,736.3 609.8,735.3 610.0,734.3 C610.1,733.3 610.2,732.3 610.3,731.3 C610.4,730.3 610.6,729.3 610.7,728.3 C610.8,727.3 610.9,726.3 611.0,725.3 C611.2,724.3 611.3,723.3 611.4,722.4 C611.5,721.4 611.6,720.4 611.8,719.4 C611.9,718.4 612.0,717.4 612.1,716.4 C612.2,715.4 612.4,714.4 612.5,713.4 C612.6,712.4 612.7,711.4 612.8,710.4 C612.9,709.4 613.1,708.5 613.2,707.5 C613.3,706.5 613.4,705.5 613.5,704.5 C613.7,703.5 613.8,702.5 613.9,701.5 C614.0,700.5 614.1,699.5 614.3,698.5 C614.4,697.5 614.5,696.5 614.6,695.5 C614.7,694.6 614.9,693.6 615.0,692.6 C615.1,691.6 615.2,690.6 615.3,689.6 C615.4,688.6 615.6,687.6 615.7,686.6 C615.8,685.6 615.9,684.6 616.0,683.6 C616.2,682.6 616.3,681.6 616.4,680.7 C616.5,679.7 616.6,678.7 616.8,677.7 C616.9,676.7 617.0,675.7 617.2,674.7 C617.3,673.7 617.4,672.7 617.5,671.7 C617.7,670.7 617.8,669.7 617.9,668.8 C618.1,667.8 618.2,666.8 618.3,665.8 C618.4,664.8 618.6,663.8 618.7,662.8 C618.8,661.8 619.0,660.8 619.1,659.8 C619.2,658.8 619.4,657.8 619.5,656.9 C619.6,655.9 619.7,654.9 619.9,653.9 C620.0,652.9 620.1,651.9 620.3,650.9 C620.4,649.9 620.5,648.9 620.6,647.9 C620.8,646.9 620.9,645.9 621.1,645.0 C621.2,644.0 621.3,643.0 621.5,642.0 C621.6,641.0 621.7,640.0 621.9,639.0 C622.0,638.0 622.2,637.0 622.3,636.0 C622.4,635.0 622.6,634.1 622.7,633.1 C622.8,632.1 623.0,631.1 623.1,630.1 C623.2,629.1 623.4,628.1 623.5,627.1 C623.7,626.1 623.8,625.1 623.9,624.2 C624.1,623.2 624.2,622.2 624.3,621.2 C624.5,620.2 624.6,619.2 624.8,618.2 C624.9,617.2 625.0,616.2 625.2,615.2 C625.3,614.3 625.5,613.3 625.6,612.3 C625.7,611.3 625.9,610.3 626.0,609.3 C626.2,608.3 626.3,607.3 626.5,606.3 C626.6,605.3 626.7,604.4 626.9,603.4 C627.0,602.4 627.2,601.4 627.3,600.4 C627.5,599.4 627.6,598.4 627.7,597.4 C627.9,596.4 628.0,595.4 628.2,594.5 C628.3,593.5 628.4,592.5 628.6,591.5 C628.7,590.5 628.9,589.5 629.0,588.5 C629.2,587.5 629.3,586.5 629.4,585.5 C629.6,584.6 629.7,583.6 629.9,582.6 C630.0,581.6 630.2,580.6 630.3,579.6 C630.5,578.6 630.6,577.6 630.7,576.6 C630.9,575.6 631.0,574.7 631.2,573.7 C631.3,572.7 631.5,571.7 631.6,570.7 C631.8,569.7 631.9,568.7 632.0,567.7 C632.2,566.7 632.3,565.8 632.5,564.8 C632.6,563.8 632.8,562.8 632.9,561.8 C633.0,560.8 633.2,559.8 633.3,558.8 C633.5,557.8 633.6,556.8 633.8,555.9 C633.9,554.9 634.1,553.9 634.2,552.9 C634.3,551.9 634.5,550.9 634.6,549.9 C634.8,548.9 635.0,548.0 635.2,547.0 C635.4,546.0 635.7,545.0 635.9,544.1 C636.1,543.1 636.3,542.1 636.6,541.1 C636.8,540.2 637.0,539.2 637.2,538.2 C637.5,537.2 637.7,536.3 637.9,535.3 C638.1,534.3 638.3,533.3 638.6,532.4 C638.8,531.4 639.0,530.4 639.2,529.4 C639.5,528.5 639.7,527.5 640.0,526.6 C640.3,525.6 640.8,524.7 641.1,523.8 C641.5,522.8 641.9,521.9 642.3,521.0 C642.6,520.1 643.0,519.1 643.4,518.2 C643.8,517.3 644.1,516.3 644.7,515.5 C645.2,514.8 646.0,514.2 646.8,513.6 C647.6,513.0 648.5,512.4 649.3,511.9 C650.1,511.4 651.0,510.6 651.8,510.6 C652.6,510.6 653.3,511.2 654.1,511.7 C654.9,512.2 655.7,512.9 656.4,513.6 C657.2,514.2 658.0,514.8 658.7,515.5 C659.5,516.1 660.2,516.8 660.8,517.6 C661.3,518.4 661.7,519.4 662.1,520.3 C662.5,521.2 662.9,522.1 663.3,523.0 C663.8,523.9 664.2,524.8 664.6,525.7 C665.0,526.6 665.4,527.5 665.8,528.5 C666.2,529.4 666.5,530.3 666.8,531.3 C667.1,532.2 667.3,533.2 667.6,534.2 C667.9,535.1 668.1,536.1 668.4,537.1 C668.7,538.0 668.9,539.0 669.2,540.0 C669.5,540.9 669.7,541.9 670.0,542.9 C670.3,543.8 670.5,544.8 670.8,545.8 C671.1,546.7 671.3,547.7 671.6,548.6 C671.9,549.6 672.2,550.5 672.5,551.5 C672.8,552.4 673.2,553.4 673.5,554.3 C673.8,555.3 674.2,556.2 674.5,557.2 C674.8,558.1 675.2,559.0 675.5,560.0 C675.8,560.9 676.1,561.9 676.5,562.8 C676.8,563.8 677.1,564.7 677.5,565.6 C677.8,566.6 678.1,567.5 678.5,568.5 C678.8,569.4 679.2,570.3 679.7,571.2 C680.1,572.1 680.5,573.0 681.0,573.9 C681.4,574.8 681.9,575.7 682.3,576.6 C682.8,577.5 683.2,578.4 683.7,579.3 C684.1,580.2 684.5,581.1 685.0,582.0 C685.5,582.8 686.0,583.7 686.6,584.5 C687.2,585.3 687.9,586.0 688.6,586.8 C689.2,587.5 689.9,588.3 690.5,589.0 C691.2,589.8 691.8,590.5 692.6,591.2 C693.3,591.9 694.1,592.5 694.9,593.0 C695.7,593.6 696.6,594.1 697.5,594.3 C698.4,594.6 699.5,594.5 700.5,594.5 C701.4,594.5 702.5,594.5 703.5,594.5 C704.5,594.5 705.5,594.5 706.5,594.5 C707.5,594.5 708.5,594.5 709.5,594.5 C710.4,594.5 711.5,594.4 712.4,594.7 C713.3,595.0 714.0,595.7 714.8,596.3 C715.6,596.8 716.4,597.5 717.1,598.2 C717.8,598.9 718.5,599.6 719.0,600.4 C719.5,601.2 719.8,602.2 720.2,603.1 C720.6,604.0 721.0,605.0 721.4,605.9 C721.8,606.8 722.2,607.7 722.6,608.7 C723.0,609.6 723.4,610.5 723.8,611.4 C724.1,612.3 724.5,613.3 724.8,614.2 C725.2,615.2 725.4,616.1 725.7,617.1 C726.0,618.0 726.3,619.0 726.6,619.9 C726.9,620.9 727.2,621.8 727.5,622.8 C727.8,623.7 728.1,624.7 728.4,625.7 C728.7,626.6 729.0,627.6 729.3,628.5 C729.6,629.5 729.9,630.4 730.2,631.4 C730.5,632.3 730.8,633.3 731.1,634.3 C731.4,635.2 731.7,636.2 731.9,637.1 C732.2,638.1 732.5,639.0 732.8,640.0 C733.1,641.0 733.4,641.9 733.7,642.9 C734.0,643.8 734.3,644.8 734.6,645.7 C734.8,646.7 735.1,647.7 735.4,648.6 C735.7,649.6 735.9,650.6 736.2,651.5 C736.4,652.5 736.6,653.5 736.9,654.4 C737.1,655.4 737.4,656.4 737.6,657.3 C737.8,658.3 738.1,659.3 738.3,660.3 C738.6,661.2 738.8,662.2 739.0,663.2 C739.3,664.1 739.5,665.1 739.8,666.1 C740.0,667.1 740.2,668.0 740.5,669.0 C740.8,670.0 741.1,670.9 741.3,671.9 C741.6,672.8 741.9,673.8 742.2,674.7 C742.5,675.7 742.8,676.7 743.1,677.6 C743.4,678.6 743.6,679.5 743.9,680.5 C744.2,681.4 744.5,682.4 744.8,683.4 C745.1,684.3 745.4,685.3 745.7,686.2 C746.0,687.2 746.2,688.1 746.5,689.1 C746.8,690.1 747.1,691.0 747.4,692.0 C747.7,692.9 748.0,693.9 748.3,694.8 C748.6,695.8 748.8,696.8 749.1,697.7 C749.4,698.7 749.7,699.6 750.0,700.6 C750.3,701.6 750.6,702.5 750.9,703.5 C751.2,704.4 751.4,705.4 751.7,706.3 C752.0,707.3 752.3,708.3 752.6,709.2 C752.9,710.2 753.2,711.1 753.5,712.1 C753.8,713.0 754.1,714.0 754.4,714.9 C754.7,715.9 755.0,716.8 755.3,717.8 C755.6,718.8 755.9,719.7 756.2,720.7 C756.4,721.6 756.7,722.6 756.9,723.6 C757.2,724.5 757.4,725.5 757.6,726.5 C757.9,727.5 758.1,728.4 758.3,729.4 C758.6,730.4 758.8,731.3 759.0,732.3 C759.3,733.3 759.5,734.3 759.7,735.2 C760.0,736.2 760.2,737.2 760.4,738.1 C760.7,739.1 760.9,740.1 761.1,741.1 C761.4,742.0 761.6,743.0 761.8,744.0 C762.1,745.0 762.3,745.9 762.6,746.9 C762.8,747.9 763.1,748.8 763.3,749.8 C763.5,750.8 763.8,751.7 764.0,752.7 C764.3,753.7 764.5,754.7 764.7,755.6 C765.0,756.6 765.2,757.6 765.5,758.5 C765.7,759.5 765.9,760.5 766.2,761.4 C766.4,762.4 766.7,763.4 766.9,764.4 C767.2,765.3 767.5,766.3 767.8,767.2 C768.2,768.2 768.5,769.1 768.8,770.0 C769.2,771.0 769.5,771.9 769.8,772.9 C770.2,773.8 770.5,774.8 770.8,775.7 C771.1,776.7 771.5,777.6 771.8,778.5 C772.1,779.5 772.5,780.4 772.8,781.4 C773.1,782.3 773.5,783.3 773.8,784.2 C774.1,785.1 774.5,786.1 774.8,787.0 C775.2,787.9 775.7,788.8 776.1,789.7 C776.5,790.6 776.9,791.6 777.3,792.5 C777.8,793.4 778.2,794.3 778.6,795.2 C779.0,796.1 779.5,797.0 779.9,797.9 C780.3,798.8 780.7,799.7 781.2,800.6 C781.6,801.5 781.9,802.7 782.4,803.3 C782.9,803.9 783.5,804.2 784.1,804.1 C784.7,803.9 785.6,802.9 786.3,802.2 C787.0,801.6 787.9,800.9 788.5,800.2 C789.2,799.5 789.8,798.8 790.3,797.9 C790.8,797.0 791.0,796.0 791.3,795.1 C791.7,794.2 792.0,793.2 792.3,792.3 C792.6,791.3 793.0,790.4 793.3,789.4 C793.6,788.5 793.9,787.5 794.3,786.6 C794.6,785.6 794.9,784.7 795.2,783.8 C795.6,782.8 795.9,781.9 796.2,780.9 C796.5,780.0 796.8,779.0 797.1,778.1 C797.3,777.1 797.5,776.1 797.7,775.1 C797.9,774.1 798.0,773.1 798.2,772.2 C798.4,771.2 798.6,770.2 798.8,769.2 C799.0,768.2 799.2,767.3 799.4,766.3 C799.6,765.3 799.8,764.3 800.0,763.3 C800.1,762.4 800.3,761.4 800.5,760.4 C800.7,759.4 800.9,758.4 801.1,757.4 C801.3,756.5 801.5,755.5 801.8,754.5 C802.0,753.5 802.2,752.6 802.4,751.6 C802.6,750.6 802.8,749.6 803.0,748.6 C803.2,747.7 803.4,746.7 803.6,745.7 C803.8,744.7 804.0,743.8 804.2,742.8 C804.4,741.8 804.7,740.8 804.9,739.8 C805.1,738.9 805.3,737.9 805.5,736.9 C805.6,735.9 805.8,734.9 806.0,734.0 C806.2,733.0 806.4,732.0 806.6,731.0 C806.8,730.0 807.0,729.0 807.2,728.1 C807.4,727.1 807.6,726.1 807.8,725.1 C808.0,724.1 808.1,723.2 808.3,722.2 C808.5,721.2 808.7,720.2 808.9,719.2 C809.1,718.3 809.3,717.3 809.5,716.3 C809.6,715.3 809.8,714.3 810.0,713.3 C810.2,712.4 810.4,711.4 810.6,710.4 C810.7,709.4 810.9,708.4 811.1,707.4 C811.3,706.5 811.5,705.5 811.7,704.5 C811.8,703.5 812.0,702.5 812.2,701.5 C812.4,700.6 812.6,699.6 812.7,698.6 C812.9,697.6 813.0,696.6 813.1,695.6 C813.3,694.6 813.4,693.6 813.6,692.6 C813.7,691.7 813.8,690.7 814.0,689.7 C814.1,688.7 814.2,687.7 814.4,686.7 C814.5,685.7 814.7,684.7 814.8,683.7 C814.9,682.7 815.1,681.7 815.2,680.8 C815.4,679.8 815.5,678.8 815.7,677.8 C815.8,676.8 816.0,675.8 816.2,674.8 C816.3,673.8 816.5,672.9 816.7,671.9 C816.8,670.9 817.0,669.9 817.2,668.9 C817.3,667.9 817.5,666.9 817.6,666.0 C817.8,665.0 818.0,664.0 818.1,663.0 C818.3,662.0 818.5,661.0 818.6,660.0 C818.8,659.1 819.0,658.1 819.2,657.1 C819.4,656.1 819.6,655.1 819.8,654.2 C820.0,653.2 820.2,652.2 820.4,651.2 C820.6,650.2 820.8,649.2 821.0,648.3 C821.2,647.3 821.4,646.3 821.6,645.3 C821.8,644.3 822.0,643.4 822.2,642.4 C822.4,641.4 822.6,640.4 822.8,639.5 C823.0,638.5 823.3,637.5 823.5,636.5 C823.7,635.6 824.0,634.6 824.2,633.6 C824.5,632.7 824.7,631.7 825.0,630.7 C825.2,629.8 825.4,628.8 825.7,627.8 C825.9,626.8 826.2,625.9 826.4,624.9 C826.7,623.9 826.9,623.0 827.2,622.0 C827.4,621.0 827.7,620.1 828.0,619.1 C828.4,618.2 828.8,617.3 829.2,616.4 C829.6,615.4 830.0,614.5 830.4,613.6 C830.8,612.7 831.2,611.8 831.6,610.9 C832.0,609.9 832.3,609.0 832.8,608.1 C833.2,607.2 833.7,606.4 834.3,605.7 C835.0,605.0 835.9,604.5 836.7,603.9 C837.5,603.3 838.4,602.6 839.2,602.3 C840.0,602.0 840.8,602.0 841.6,602.3 C842.4,602.6 843.1,603.5 843.9,604.1 C844.6,604.7 845.4,605.4 846.1,606.1 C846.9,606.7 847.7,607.3 848.4,608.0 C849.1,608.7 849.9,609.3 850.5,610.1 C851.0,610.9 851.3,611.9 851.7,612.8 C852.0,613.8 852.3,614.7 852.7,615.7 C853.0,616.6 853.4,617.5 853.7,618.5 C854.0,619.4 854.4,620.4 854.7,621.3 C855.1,622.2 855.4,623.2 855.7,624.1 C856.1,625.1 856.4,626.0 856.8,626.9 C857.1,627.9 857.5,628.8 857.7,629.8 C858.0,630.7 858.3,631.7 858.5,632.7 C858.8,633.6 859.0,634.6 859.3,635.6 C859.5,636.5 859.7,637.5 860.0,638.5 C860.2,639.5 860.5,640.4 860.7,641.4 C861.0,642.4 861.2,643.3 861.4,644.3 C861.7,645.3 861.9,646.2 862.2,647.2 C862.4,648.2 862.7,649.2 862.9,650.1 C863.2,651.1 863.4,652.1 863.6,653.0 C863.9,654.0 864.1,655.0 864.4,655.9 C864.6,656.9 864.9,657.9 865.1,658.9 C865.3,659.8 865.6,660.8 865.8,661.8 C866.1,662.7 866.3,663.7 866.6,664.7 C866.8,665.6 867.0,666.6 867.3,667.6 C867.5,668.5 867.8,669.5 868.1,670.5 C868.4,671.4 868.7,672.4 869.0,673.3 C869.3,674.3 869.6,675.2 869.9,676.2 C870.2,677.1 870.5,678.1 870.8,679.0 C871.1,680.0 871.5,680.9 871.8,681.9 C872.1,682.8 872.5,683.8 872.8,684.7 C873.1,685.7 873.4,686.6 873.8,687.5 C874.2,688.5 874.5,689.4 875.0,690.3 C875.4,691.2 875.9,692.1 876.4,692.9 C876.9,693.8 877.4,694.7 877.9,695.5 C878.5,696.3 879.1,697.1 879.8,697.9 C880.4,698.6 881.1,699.4 881.7,700.1 C882.3,700.9 883.0,701.7 883.6,702.4 C884.3,703.2 884.9,704.0 885.6,704.7 C886.2,705.5 886.8,706.3 887.6,707.0 C888.3,707.6 889.1,708.1 890.0,708.7 C890.8,709.2 891.7,709.7 892.6,710.2 C893.4,710.7 894.3,711.2 895.2,711.7 C896.0,712.2 896.9,712.7 897.7,713.2 C898.6,713.8 899.4,714.3 900.2,714.9 C901.0,715.5 901.7,716.2 902.5,716.9 C903.2,717.5 904.0,718.2 904.7,718.9 C905.5,719.5 906.2,720.2 907.0,720.9 C907.7,721.5 908.5,722.2 909.2,722.9 C909.8,723.6 910.4,724.5 911.0,725.3 C911.5,726.1 912.0,726.9 912.6,727.8 C913.1,728.6 913.7,729.5 914.2,730.3 C914.7,731.2 915.3,732.0 915.8,732.8 C916.4,733.7 916.9,734.5 917.4,735.4 C918.0,736.2 918.5,737.1 919.0,737.9 C919.4,738.8 919.9,739.7 920.3,740.6 C920.8,741.5 921.2,742.4 921.7,743.3 C922.1,744.2 922.5,745.1 923.0,746.0 C923.4,746.9 923.9,747.8 924.3,748.7 C924.8,749.6 925.2,750.5 925.7,751.4 C926.1,752.3 926.6,753.1 927.0,754.0 C927.5,754.9 927.9,755.8 928.4,756.7 C928.8,757.6 929.3,758.5 929.7,759.4 C930.2,760.3 930.6,761.2 931.0,762.1 C931.5,763.0 931.9,763.9 932.4,764.8 C932.8,765.7 933.3,766.6 933.7,767.5 C934.2,768.4 934.6,769.2 935.1,770.1 C935.5,771.0 936.0,771.9 936.4,772.8 C936.9,773.7 937.3,774.6 937.8,775.5 C938.2,776.4 938.7,777.3 939.1,778.2 C939.5,779.1 940.0,780.0 940.4,780.9 C940.8,781.8 941.3,782.7 941.7,783.6 C942.1,784.5 942.5,785.4 943.0,786.3 C943.4,787.2 943.8,788.1 944.2,789.0 C944.7,789.9 945.1,790.9 945.5,791.8 C945.9,792.7 946.2,793.6 946.6,794.5 C947.0,795.5 947.4,796.4 947.8,797.3 C948.2,798.2 948.6,799.1 949.0,800.1 C949.4,801.0 949.8,801.9 950.1,802.8 C950.5,803.8 950.9,804.7 951.2,805.6 C951.6,806.6 951.9,807.5 952.3,808.4 C952.6,809.4 953.0,810.3 953.3,811.2 C953.7,812.2 954.1,813.1 954.4,814.0 C954.8,815.0 955.2,815.9 955.5,816.8 C955.9,817.7 956.3,818.7 956.7,819.6 C957.1,820.5 957.5,821.4 957.9,822.3 C958.3,823.3 958.7,824.2 959.1,825.1 C959.5,826.0 959.8,826.9 960.3,827.8 C960.7,828.7 961.2,829.6 961.7,830.5 C962.1,831.4 962.6,832.3 963.1,833.1 C963.6,834.0 964.0,834.9 964.5,835.8 C965.0,836.6 965.5,837.5 966.1,838.3 C966.7,839.1 967.5,839.6 968.3,840.3 C969.0,840.9 969.9,841.6 970.6,842.1 C971.4,842.6 972.2,843.3 973.0,843.3 C973.8,843.3 974.6,842.5 975.3,841.9 C976.1,841.4 976.9,840.7 977.6,840.0 C978.4,839.3 979.1,838.7 979.7,837.9 C980.3,837.1 980.8,836.2 981.3,835.4 C981.8,834.5 982.3,833.7 982.8,832.8 C983.3,831.9 983.8,831.1 984.3,830.2 C984.8,829.3 985.3,828.5 985.7,827.5 C986.2,826.6 986.5,825.7 986.9,824.8 C987.2,823.9 987.6,822.9 988.0,822.0 C988.3,821.1 988.7,820.1 989.1,819.2 C989.4,818.3 989.8,817.3 990.2,816.4 C990.5,815.5 990.8,814.5 991.1,813.6 C991.4,812.6 991.7,811.6 992.0,810.7 C992.3,809.7 992.6,808.8 992.9,807.8 C993.1,806.9 993.4,805.9 993.7,804.9 C994.0,804.0 994.3,803.0 994.6,802.1 C994.8,801.1 995.1,800.1 995.4,799.2 C995.6,798.2 995.9,797.2 996.2,796.3 C996.4,795.3 996.7,794.4 997.0,793.4 C997.2,792.4 997.5,791.5 997.7,790.5 C998.0,789.5 998.2,788.5 998.3,787.6 C998.5,786.6 998.7,785.6 998.9,784.6 C999.1,783.6 999.2,782.6 999.4,781.7 C999.6,780.7 999.8,779.7 1000.0,778.7 C1000.1,777.7 1000.3,776.7 1000.5,775.8 C1000.7,774.8 1000.8,773.8 1001.0,772.8 C1001.2,771.8 1001.4,770.8 1001.6,769.9 C1001.8,768.9 1002.0,767.9 1002.2,766.9 C1002.4,765.9 1002.7,765.0 1002.9,764.0 C1003.1,763.0 1003.4,762.1 1003.6,761.1 C1003.8,760.1 1004.0,759.1 1004.3,758.2 C1004.5,757.2 1004.7,756.2 1005.0,755.2 C1005.2,754.3 1005.4,753.3 1005.6,752.3 C1005.9,751.3 1006.1,750.4 1006.3,749.4 C1006.6,748.4 1006.8,747.5 1007.0,746.5 C1007.2,745.5 1007.5,744.5 1007.7,743.6 C1007.9,742.6 1008.1,741.6 1008.4,740.6 C1008.6,739.7 1008.9,738.7 1009.2,737.7 C1009.5,736.8 1009.8,735.8 1010.0,734.9 C1010.3,733.9 1010.6,733.0 1010.9,732.0 C1011.2,731.0 1011.5,730.1 1011.8,729.1 C1012.1,728.2 1012.4,727.2 1012.7,726.3 C1013.0,725.3 1013.3,724.4 1013.6,723.4 C1013.8,722.4 1014.1,721.5 1014.4,720.5 C1014.7,719.6 1015.0,718.6 1015.3,717.7 C1015.6,716.7 1015.8,715.7 1016.2,714.8 C1016.5,713.9 1016.9,713.0 1017.4,712.1 C1017.8,711.2 1018.4,710.3 1018.9,709.5 C1019.4,708.6 1019.9,707.7 1020.4,706.9 C1020.9,706.0 1021.4,705.1 1021.9,704.3 C1022.4,703.4 1022.8,702.5 1023.4,701.7 C1023.9,700.8 1024.4,700.0 1025.1,699.4 C1025.9,698.7 1026.8,698.3 1027.7,697.8 C1028.5,697.3 1029.4,696.8 1030.3,696.3 C1031.1,695.8 1032.0,695.1 1032.9,694.9 C1033.7,694.8 1034.5,694.9 1035.4,695.3 C1036.2,695.7 1036.9,696.5 1037.7,697.1 C1038.5,697.7 1039.4,698.3 1040.0,699.0 C1040.7,699.7 1041.3,700.5 1041.8,701.3 C1042.3,702.2 1042.8,703.1 1043.2,704.0 C1043.7,704.9 1044.2,705.7 1044.7,706.6 C1045.2,707.5 1045.6,708.4 1046.1,709.2 C1046.6,710.1 1047.1,711.0 1047.5,711.9 C1047.9,712.8 1048.3,713.7 1048.7,714.7 C1049.0,715.6 1049.3,716.5 1049.6,717.5 C1050.0,718.4 1050.3,719.4 1050.6,720.3 C1051.0,721.3 1051.3,722.2 1051.6,723.2 C1051.9,724.1 1052.3,725.0 1052.6,726.0 C1052.9,726.9 1053.3,727.9 1053.6,728.8 C1053.9,729.8 1054.3,730.7 1054.6,731.6 C1054.9,732.6 1055.3,733.5 1055.6,734.5 C1055.9,735.4 1056.3,736.4 1056.6,737.3 C1056.9,738.3 1057.2,739.2 1057.6,740.1 C1057.9,741.1 1058.2,742.0 1058.6,743.0 C1058.9,743.9 1059.2,744.9 1059.5,745.8 C1059.9,746.8 1060.2,747.7 1060.5,748.6 C1060.9,749.6 1061.2,750.5 1061.5,751.5 C1061.9,752.4 1062.2,753.4 1062.5,754.3 C1062.9,755.2 1063.2,756.2 1063.6,757.1 C1063.9,758.0 1064.3,759.0 1064.7,759.9 C1065.0,760.8 1065.4,761.8 1065.8,762.7 C1066.1,763.6 1066.5,764.6 1066.9,765.5 C1067.3,766.4 1067.7,767.3 1068.2,768.2 C1068.6,769.1 1069.1,769.9 1069.6,770.8 C1070.1,771.7 1070.6,772.6 1071.1,773.4 C1071.6,774.3 1072.0,775.2 1072.5,776.1 C1073.0,776.9 1073.5,777.8 1074.0,778.7 C1074.5,779.5 1075.1,780.4 1075.6,781.2 C1076.1,782.1 1076.6,782.9 1077.1,783.8 C1077.6,784.7 1078.1,785.5 1078.6,786.4 C1079.2,787.2 1079.7,788.1 1080.3,788.9 C1080.9,789.7 1081.6,790.4 1082.2,791.2 C1082.9,791.9 1083.6,792.7 1084.2,793.4 C1084.9,794.1 1085.5,794.9 1086.2,795.6 C1086.9,796.4 1087.6,797.1 1088.4,797.7 C1089.1,798.4 1089.8,799.1 1090.5,799.8 C1091.3,800.5 1092.0,801.2 1092.7,801.9 C1093.5,802.5 1094.2,803.2 1094.9,803.9 C1095.7,804.6 1096.4,805.2 1097.2,805.9 C1097.9,806.5 1098.7,807.2 1099.4,807.9 C1100.2,808.5 1101.0,809.2 1101.7,809.8 C1102.4,810.5 1103.2,811.2 1103.9,811.8 C1104.7,812.5 1105.4,813.2 1106.1,813.9 C1106.8,814.6 1107.6,815.2 1108.3,815.9 C1109.0,816.6 1109.8,817.3 1110.5,818.0 C1111.2,818.7 1111.9,819.4 1112.6,820.1 C1113.3,820.9 1114.0,821.6 1114.7,822.3 C1115.4,823.0 1116.1,823.7 1116.8,824.4 C1117.4,825.2 1118.1,825.9 1118.8,826.6 C1119.5,827.4 1120.2,828.1 1120.9,828.8 C1121.5,829.6 1122.2,830.3 1122.9,831.1 C1123.5,831.8 1124.1,832.6 1124.7,833.4 C1125.4,834.2 1126.0,835.0 1126.6,835.7 C1127.2,836.5 1127.9,837.3 1128.5,838.1 C1129.1,838.9 1129.7,839.6 1130.4,840.4 C1131.0,841.2 1131.6,842.0 1132.2,842.8 C1132.9,843.6 1133.5,844.3 1134.1,845.1 C1134.7,845.9 1135.3,846.7 1135.9,847.5 C1136.4,848.4 1136.9,849.2 1137.4,850.1 C1137.9,851.0 1138.4,851.8 1138.9,852.7 C1139.4,853.6 1139.9,854.4 1140.4,855.3 C1140.9,856.2 1141.4,857.1 1141.9,857.9 C1142.3,858.8 1142.8,859.7 1143.3,860.6 C1143.8,861.4 1144.3,862.3 1144.8,863.2 C1145.3,864.0 1145.8,864.9 1146.3,865.7 C1146.8,866.6 1147.4,867.4 1147.9,868.3 C1148.4,869.1 1148.9,870.0 1149.5,870.8 C1150.1,871.6 1150.9,872.3 1151.6,872.9 C1152.3,873.6 1153.1,874.3 1153.9,874.9 C1154.6,875.5 1155.3,876.3 1156.2,876.8 C1157.0,877.4 1157.9,877.8 1158.8,878.2 C1159.7,878.6 1160.7,878.9 1161.6,879.2 C1162.5,879.6 1163.5,880.0 1164.4,880.2 C1165.3,880.4 1166.3,880.4 1167.2,880.2 C1168.1,880.0 1169.1,879.5 1170.0,879.1 C1170.9,878.7 1171.9,878.4 1172.7,877.9 C1173.6,877.4 1174.3,876.8 1175.0,876.1 C1175.7,875.4 1176.3,874.6 1177.0,873.8 C1177.6,873.1 1178.3,872.3 1178.9,871.5 C1179.5,870.7 1180.0,869.9 1180.5,869.0 C1180.9,868.1 1181.3,867.2 1181.7,866.3 C1182.1,865.4 1182.5,864.5 1182.9,863.5 C1183.3,862.6 1183.8,861.7 1184.2,860.8 C1184.6,859.9 1185.0,859.0 1185.4,858.0 C1185.7,857.1 1186.1,856.2 1186.5,855.3 C1186.9,854.4 1187.3,853.4 1187.7,852.5 C1188.1,851.6 1188.5,850.7 1188.8,849.8 C1189.2,848.8 1189.6,847.9 1190.0,847.0 C1190.3,846.0 1190.7,845.1 1191.1,844.2 C1191.4,843.2 1191.8,842.3 1192.1,841.4 C1192.5,840.4 1192.8,839.5 1193.2,838.6 C1193.6,837.6 1193.9,836.7 1194.3,835.8 C1194.7,834.9 1195.1,833.9 1195.5,833.0 C1195.9,832.1 1196.3,831.2 1196.7,830.3 C1197.1,829.4 1197.6,828.5 1198.0,827.6 C1198.4,826.7 1198.8,825.7 1199.2,824.9 C1199.7,824.0 1200.2,823.1 1200.7,822.3 C1201.3,821.4 1201.8,820.6 1202.4,819.8 C1202.9,818.9 1203.5,818.1 1204.0,817.3 C1204.6,816.4 1205.2,815.6 1205.8,814.9 C1206.5,814.1 1207.3,813.5 1208.0,812.8 C1208.8,812.2 1209.5,811.5 1210.3,810.9 C1211.1,810.3 1211.8,809.6 1212.7,809.1 C1213.5,808.6 1214.5,808.4 1215.4,808.1 C1216.4,807.8 1217.4,807.5 1218.3,807.3 C1219.3,807.1 1220.3,806.9 1221.2,807.0 C1222.2,807.0 1223.2,807.2 1224.2,807.5 C1225.1,807.8 1226.0,808.1 1226.9,808.6 C1227.8,809.0 1228.6,809.6 1229.4,810.2 C1230.2,810.8 1231.1,811.3 1231.8,812.0 C1232.6,812.6 1233.2,813.4 1233.9,814.2 C1234.5,814.9 1235.2,815.7 1235.8,816.4 C1236.5,817.2 1237.2,817.9 1237.8,818.7 C1238.4,819.5 1239.0,820.3 1239.6,821.1 C1240.2,821.9 1240.8,822.7 1241.4,823.5 C1242.0,824.3 1242.6,825.1 1243.2,825.9 C1243.8,826.7 1244.4,827.5 1244.9,828.4 C1245.5,829.2 1246.0,830.0 1246.6,830.9 C1247.1,831.7 1247.7,832.5 1248.2,833.4 C1248.8,834.2 1249.3,835.0 1249.9,835.9 C1250.5,836.7 1251.1,837.5 1251.7,838.3 C1252.3,839.1 1252.9,839.9 1253.5,840.7 C1254.1,841.4 1254.7,842.3 1255.3,843.0 C1255.9,843.8 1256.6,844.6 1257.2,845.3 C1257.9,846.1 1258.5,846.9 1259.2,847.6 C1259.8,848.4 1260.4,849.2 1261.1,849.9 C1261.8,850.6 1262.5,851.3 1263.2,852.0 C1264.0,852.7 1264.7,853.4 1265.5,854.0 C1266.2,854.7 1266.9,855.4 1267.7,856.0 C1268.5,856.6 1269.4,857.1 1270.2,857.7 C1271.0,858.2 1271.9,858.8 1272.7,859.3 C1273.6,859.8 1274.4,860.4 1275.3,860.8 C1276.2,861.2 1277.1,861.6 1278.1,861.9 C1279.0,862.3 1279.9,862.7 1280.9,863.1 C1281.8,863.4 1282.7,863.8 1283.6,864.2 C1284.6,864.6 1285.5,864.9 1286.4,865.3 C1287.4,865.7 1288.3,866.0 1289.2,866.4 C1290.1,866.8 1291.1,867.2 1292.0,867.5 C1292.9,867.9 1293.8,868.3 1294.8,868.7 C1295.7,869.1 1296.6,869.6 1297.4,870.0 C1298.3,870.5 1299.2,870.9 1300.1,871.4 C1301.0,871.8 1301.9,872.3 1302.8,872.7 C1303.7,873.2 1304.6,873.6 1305.5,874.1 C1306.3,874.6 1307.3,875.2 1308.1,875.6 C1308.8,876.0 1309.5,876.4 1309.8,876.6" stroke="#f00" stroke-width="7.5" fill="none" stroke-linejoin="round" stroke-linecap="butt"/>
<path d="M181,649H1310" stroke="#000" stroke-width="4" stroke-dasharray="16 19.28" fill="none" shape-rendering="crispEdges"/>
<path d="M181,769H1310" stroke="#f00" stroke-width="4" stroke-dasharray="16 19.28" fill="none" shape-rendering="crispEdges"/>
<rect x="181" y="43" width="1129" height="902" stroke="#000" stroke-width="4" fill="none" shape-rendering="crispEdges"/>
<text x="162" y="960.5" font-size="52" text-anchor="end">0</text>
<text x="162" y="870.0" font-size="52" text-anchor="end">2</text>
<text x="162" y="780.0" font-size="52" text-anchor="end">4</text>
<text x="162" y="690.0" font-size="52" text-anchor="end">6</text>
<text x="162" y="600.0" font-size="52" text-anchor="end">8</text>
<text x="162" y="510.0" font-size="52" text-anchor="end">10</text>
<text x="162" y="420.0" font-size="52" text-anchor="end">12</text>
<text x="162" y="329.0" font-size="52" text-anchor="end">14</text>
<text x="162" y="239.0" font-size="52" text-anchor="end">16</text>
<text x="162" y="149.0" font-size="52" text-anchor="end">18</text>
<text x="162" y="58.5" font-size="52" text-anchor="end">20</text>
<text x="181.0" y="1003.5" font-size="52" text-anchor="middle">0</text>
<text x="369.2" y="1003.5" font-size="52" text-anchor="middle">60</text>
<text x="557.3" y="1003.5" font-size="52" text-anchor="middle">120</text>
<text x="745.5" y="1003.5" font-size="52" text-anchor="middle">180</text>
<text x="933.7" y="1003.5" font-size="52" text-anchor="middle">240</text>
<text x="1121.8" y="1003.5" font-size="52" text-anchor="middle">300</text>
<text x="1310.0" y="1003.5" font-size="52" text-anchor="middle">360</text>
<text x="463.3" y="1082" font-size="60">Electrical angle <tspan font-style="italic" dx="2.5">θ</tspan><tspan dx="-1"> (deg)</tspan></text>
<text transform="translate(60,759.7) rotate(-90)" font-size="60">Eddy current loss (W)</text>
<rect x="907.5" y="51.5" width="387" height="134" stroke="#000" stroke-width="1" fill="#fff" shape-rendering="crispEdges"/>
<path d="M914,87H1031" stroke="#f00" stroke-width="8" shape-rendering="crispEdges"/>
<path d="M914,150.5H1031" stroke="#000" stroke-width="7" shape-rendering="crispEdges"/>
<text x="1043" y="105" font-size="51.5">With slit</text>
<text x="1043" y="168.5" font-size="51.5">Without slit</text>
<rect x="1327.5" y="572.5" width="294" height="123" stroke="#000" stroke-width="3" fill="#fff" shape-rendering="crispEdges"/>
<text x="1334" y="621" font-size="47.8">Without slit</text>
<text x="1334.5" y="679.5" font-size="47.8">Ave. = 6.56 W</text>
<rect x="1327.5" y="710.5" width="294" height="122" stroke="#f00" stroke-width="3" fill="#fff" shape-rendering="crispEdges"/>
<text x="1335" y="758.5" font-size="47.8">With slit</text>
<text x="1335" y="816.5" font-size="47.8">Ave. = 3.91 W</text>
</svg>
</body></html>
